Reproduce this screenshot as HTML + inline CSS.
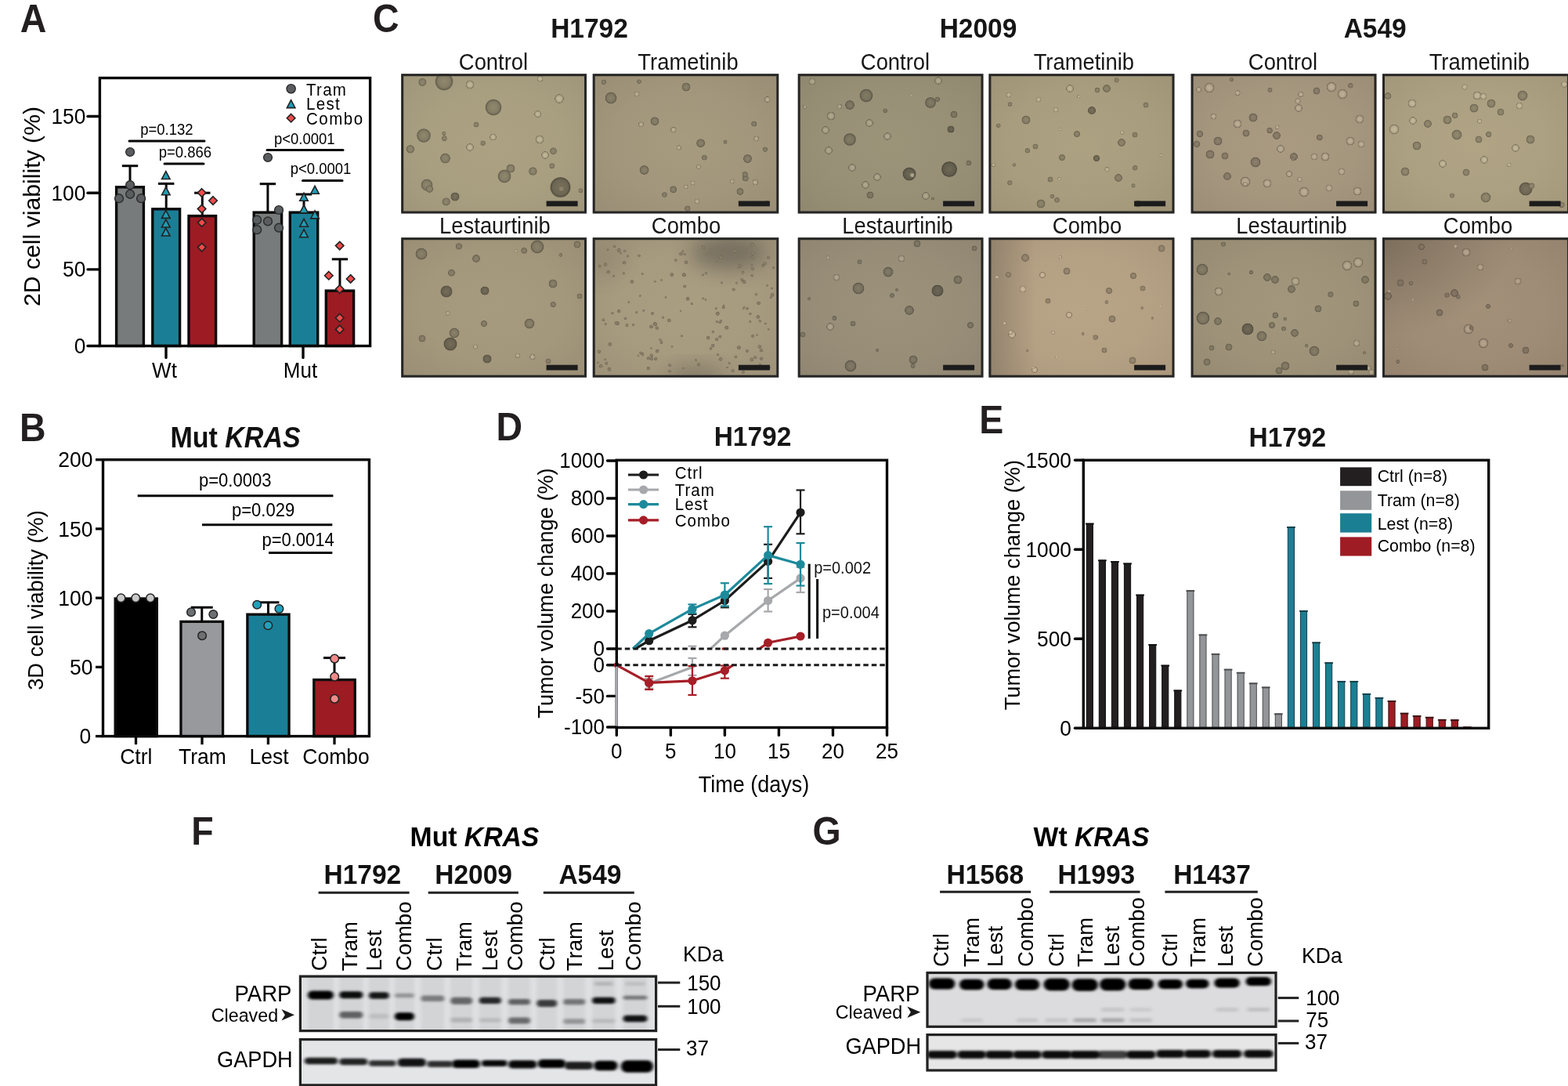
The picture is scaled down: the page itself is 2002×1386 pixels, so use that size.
<!DOCTYPE html>
<html><head><meta charset="utf-8"><title>Figure</title>
<style>
html,body{margin:0;padding:0;background:#fff;}
body{width:2002px;height:1386px;overflow:hidden;}
svg{display:block;}
text{font-family:"Liberation Sans", Arial, Helvetica, sans-serif;}
</style></head><body>
<svg width="2002" height="1386" viewBox="0 0 2002 1386">
<rect x="0" y="0" width="2002" height="1386" fill="#ffffff"/>
<text transform="translate(25.80 41.00) scale(1 1.06)" font-size="46.5" font-weight="bold" fill="#231f20">A</text>
<line x1="112.00" y1="441.50" x2="127.40" y2="441.50" stroke="#070707" stroke-width="3.4" stroke-linecap="round"/>
<text transform="translate(109.30 451.10) scale(1 1.06)" font-size="26.3" text-anchor="end">0</text>
<line x1="112.00" y1="343.85" x2="127.40" y2="343.85" stroke="#070707" stroke-width="3.4" stroke-linecap="round"/>
<text transform="translate(109.30 353.45) scale(1 1.06)" font-size="26.3" text-anchor="end">50</text>
<line x1="112.00" y1="246.20" x2="127.40" y2="246.20" stroke="#070707" stroke-width="3.4" stroke-linecap="round"/>
<text transform="translate(109.30 255.80) scale(1 1.06)" font-size="26.3" text-anchor="end">100</text>
<line x1="112.00" y1="148.55" x2="127.40" y2="148.55" stroke="#070707" stroke-width="3.4" stroke-linecap="round"/>
<text transform="translate(109.30 158.15) scale(1 1.06)" font-size="26.3" text-anchor="end">150</text>
<line x1="212.00" y1="441.50" x2="212.00" y2="456.50" stroke="#070707" stroke-width="3.4" stroke-linecap="round"/>
<line x1="387.00" y1="441.50" x2="387.00" y2="456.50" stroke="#070707" stroke-width="3.4" stroke-linecap="round"/>
<text transform="translate(210.00 481.60) scale(1 1.06)" font-size="26" text-anchor="middle">Wt</text>
<text transform="translate(383.50 481.60) scale(1 1.06)" font-size="26" text-anchor="middle">Mut</text>
<text transform="translate(51.30 263.50) rotate(-90) scale(1.06 1.06)" font-size="28.5" text-anchor="middle">2D cell viability (%)</text>
<line x1="166.00" y1="238.00" x2="166.00" y2="211.70" stroke="#070707" stroke-width="3" stroke-linecap="butt"/>
<line x1="155.80" y1="211.70" x2="176.20" y2="211.70" stroke="#070707" stroke-width="3" stroke-linecap="butt"/>
<line x1="212.20" y1="266.00" x2="212.20" y2="234.40" stroke="#070707" stroke-width="3" stroke-linecap="butt"/>
<line x1="202.00" y1="234.40" x2="222.40" y2="234.40" stroke="#070707" stroke-width="3" stroke-linecap="butt"/>
<line x1="258.30" y1="274.80" x2="258.30" y2="246.20" stroke="#070707" stroke-width="3" stroke-linecap="butt"/>
<line x1="248.10" y1="246.20" x2="268.50" y2="246.20" stroke="#070707" stroke-width="3" stroke-linecap="butt"/>
<line x1="341.90" y1="270.30" x2="341.90" y2="234.70" stroke="#070707" stroke-width="3" stroke-linecap="butt"/>
<line x1="331.70" y1="234.70" x2="352.10" y2="234.70" stroke="#070707" stroke-width="3" stroke-linecap="butt"/>
<line x1="388.00" y1="270.30" x2="388.00" y2="248.00" stroke="#070707" stroke-width="3" stroke-linecap="butt"/>
<line x1="377.80" y1="248.00" x2="398.20" y2="248.00" stroke="#070707" stroke-width="3" stroke-linecap="butt"/>
<line x1="433.95" y1="370.30" x2="433.95" y2="330.80" stroke="#070707" stroke-width="3" stroke-linecap="butt"/>
<line x1="423.75" y1="330.80" x2="444.15" y2="330.80" stroke="#070707" stroke-width="3" stroke-linecap="butt"/>
<rect x="148.60" y="238.80" width="34.80" height="202.70" fill="#777b7b" stroke="#0a0a0a" stroke-width="3.4"/>
<rect x="194.80" y="266.80" width="34.80" height="174.70" fill="#1a7f96" stroke="#0a0a0a" stroke-width="3.4"/>
<rect x="241.00" y="275.60" width="34.60" height="165.90" fill="#9d1b22" stroke="#0a0a0a" stroke-width="3.4"/>
<rect x="324.20" y="271.10" width="35.40" height="170.40" fill="#777b7b" stroke="#0a0a0a" stroke-width="3.4"/>
<rect x="370.30" y="271.10" width="35.40" height="170.40" fill="#1a7f96" stroke="#0a0a0a" stroke-width="3.4"/>
<rect x="416.30" y="371.10" width="35.30" height="70.40" fill="#9d1b22" stroke="#0a0a0a" stroke-width="3.4"/>
<circle cx="166.10" cy="194.00" r="5.40" fill="#5a5d5f" stroke="#2a2a2a" stroke-width="1.4"/>
<circle cx="166.10" cy="236.10" r="5.40" fill="#5a5d5f" stroke="#2a2a2a" stroke-width="1.4"/>
<circle cx="166.10" cy="247.80" r="5.40" fill="#5a5d5f" stroke="#2a2a2a" stroke-width="1.4"/>
<circle cx="152.00" cy="253.20" r="5.40" fill="#5a5d5f" stroke="#2a2a2a" stroke-width="1.4"/>
<circle cx="180.10" cy="253.20" r="5.40" fill="#5a5d5f" stroke="#2a2a2a" stroke-width="1.4"/>
<circle cx="342.00" cy="201.00" r="5.40" fill="#5a5d5f" stroke="#2a2a2a" stroke-width="1.4"/>
<circle cx="356.00" cy="268.00" r="5.40" fill="#5a5d5f" stroke="#2a2a2a" stroke-width="1.4"/>
<circle cx="328.20" cy="280.70" r="5.40" fill="#5a5d5f" stroke="#2a2a2a" stroke-width="1.4"/>
<circle cx="342.00" cy="282.40" r="5.40" fill="#5a5d5f" stroke="#2a2a2a" stroke-width="1.4"/>
<circle cx="328.20" cy="293.20" r="5.40" fill="#5a5d5f" stroke="#2a2a2a" stroke-width="1.4"/>
<circle cx="356.00" cy="290.70" r="5.40" fill="#5a5d5f" stroke="#2a2a2a" stroke-width="1.4"/>
<polygon points="211.80,218.63 206.55,228.55 217.05,228.55" fill="#1f9db6" stroke="#222" stroke-width="1.6" stroke-linejoin="miter"/>
<polygon points="211.80,238.83 206.55,248.75 217.05,248.75" fill="#1f9db6" stroke="#222" stroke-width="1.6" stroke-linejoin="miter"/>
<polygon points="211.80,268.43 206.55,278.35 217.05,278.35" fill="#1f9db6" stroke="#222" stroke-width="1.6" stroke-linejoin="miter"/>
<polygon points="211.80,280.03 206.55,289.95 217.05,289.95" fill="#1f9db6" stroke="#222" stroke-width="1.6" stroke-linejoin="miter"/>
<polygon points="211.80,291.13 206.55,301.05 217.05,301.05" fill="#1f9db6" stroke="#222" stroke-width="1.6" stroke-linejoin="miter"/>
<polygon points="402.00,237.33 396.75,247.25 407.25,247.25" fill="#1f9db6" stroke="#222" stroke-width="1.6" stroke-linejoin="miter"/>
<polygon points="388.00,246.33 382.75,256.25 393.25,256.25" fill="#1f9db6" stroke="#222" stroke-width="1.6" stroke-linejoin="miter"/>
<polygon points="388.00,261.83 382.75,271.75 393.25,271.75" fill="#1f9db6" stroke="#222" stroke-width="1.6" stroke-linejoin="miter"/>
<polygon points="402.00,268.93 396.75,278.85 407.25,278.85" fill="#1f9db6" stroke="#222" stroke-width="1.6" stroke-linejoin="miter"/>
<polygon points="388.00,279.33 382.75,289.25 393.25,289.25" fill="#1f9db6" stroke="#222" stroke-width="1.6" stroke-linejoin="miter"/>
<polygon points="388.00,292.83 382.75,302.75 393.25,302.75" fill="#1f9db6" stroke="#222" stroke-width="1.6" stroke-linejoin="miter"/>
<polygon points="257.60,240.75 262.85,246.00 257.60,251.25 252.35,246.00" fill="#ef4b4b" stroke="#222" stroke-width="1.6"/>
<polygon points="272.00,250.75 277.25,256.00 272.00,261.25 266.75,256.00" fill="#ef4b4b" stroke="#222" stroke-width="1.6"/>
<polygon points="257.60,261.35 262.85,266.60 257.60,271.85 252.35,266.60" fill="#ef4b4b" stroke="#222" stroke-width="1.6"/>
<polygon points="257.70,278.85 262.95,284.10 257.70,289.35 252.45,284.10" fill="#ef4b4b" stroke="#222" stroke-width="1.6"/>
<polygon points="257.70,310.35 262.95,315.60 257.70,320.85 252.45,315.60" fill="#ef4b4b" stroke="#222" stroke-width="1.6"/>
<polygon points="433.70,308.35 438.95,313.60 433.70,318.85 428.45,313.60" fill="#ef4b4b" stroke="#222" stroke-width="1.6"/>
<polygon points="419.80,346.45 425.05,351.70 419.80,356.95 414.55,351.70" fill="#ef4b4b" stroke="#222" stroke-width="1.6"/>
<polygon points="447.60,350.65 452.85,355.90 447.60,361.15 442.35,355.90" fill="#ef4b4b" stroke="#222" stroke-width="1.6"/>
<polygon points="433.70,363.75 438.95,369.00 433.70,374.25 428.45,369.00" fill="#ef4b4b" stroke="#222" stroke-width="1.6"/>
<polygon points="433.70,400.45 438.95,405.70 433.70,410.95 428.45,405.70" fill="#ef4b4b" stroke="#222" stroke-width="1.6"/>
<polygon points="433.70,415.15 438.95,420.40 433.70,425.65 428.45,420.40" fill="#ef4b4b" stroke="#222" stroke-width="1.6"/>
<rect x="127.40" y="99.50" width="345.20" height="342.00" fill="none" stroke="#070707" stroke-width="3.4"/>
<line x1="165.00" y1="180.00" x2="261.00" y2="180.00" stroke="#070707" stroke-width="3" stroke-linecap="round"/>
<text transform="translate(212.80 172.00) scale(1 1.06)" font-size="18.5" text-anchor="middle">p=0.132</text>
<line x1="210.00" y1="209.00" x2="260.00" y2="209.00" stroke="#070707" stroke-width="3" stroke-linecap="round"/>
<text transform="translate(236.30 200.50) scale(1 1.06)" font-size="18.5" text-anchor="middle">p=0.866</text>
<line x1="341.00" y1="191.40" x2="438.00" y2="191.40" stroke="#070707" stroke-width="3" stroke-linecap="round"/>
<text transform="translate(388.80 184.00) scale(1 1.06)" font-size="18.5" text-anchor="middle">p&lt;0.0001</text>
<line x1="386.50" y1="230.40" x2="437.00" y2="230.40" stroke="#070707" stroke-width="3" stroke-linecap="round"/>
<text transform="translate(409.50 222.00) scale(1 1.06)" font-size="18.5" text-anchor="middle">p&lt;0.0001</text>
<circle cx="371.60" cy="113.20" r="5.60" fill="#5a5d5f" stroke="#2a2a2a" stroke-width="1.4"/>
<polygon points="371.60,127.73 366.35,137.65 376.85,137.65" fill="#1f9db6" stroke="#222" stroke-width="1.6" stroke-linejoin="miter"/>
<polygon points="371.60,145.45 376.85,150.70 371.60,155.95 366.35,150.70" fill="#ef4b4b" stroke="#222" stroke-width="1.6"/>
<text transform="translate(391.00 121.80) scale(1 1.06)" font-size="20.5" letter-spacing="1.3">Tram</text>
<text transform="translate(391.00 140.00) scale(1 1.06)" font-size="20.5" letter-spacing="1.3">Lest</text>
<text transform="translate(391.00 158.60) scale(1 1.06)" font-size="20.5" letter-spacing="1.5">Combo</text>
<text transform="translate(24.94 563.00) scale(1 1.06)" font-size="46.5" font-weight="bold" fill="#231f20">B</text>
<text transform="translate(217.50 570.80) scale(1 1.06)" font-size="34" font-weight="bold" fill="#111">Mut <tspan font-style="italic">KRAS</tspan></text>
<line x1="122.00" y1="939.60" x2="131.50" y2="939.60" stroke="#070707" stroke-width="3.3" stroke-linecap="butt"/>
<text transform="translate(116.20 949.20) scale(1 1.06)" font-size="26.5" text-anchor="end">0</text>
<line x1="122.00" y1="851.38" x2="131.50" y2="851.38" stroke="#070707" stroke-width="3.3" stroke-linecap="butt"/>
<text transform="translate(118.50 860.98) scale(1 1.06)" font-size="26.5" text-anchor="end">50</text>
<line x1="122.00" y1="763.15" x2="131.50" y2="763.15" stroke="#070707" stroke-width="3.3" stroke-linecap="butt"/>
<text transform="translate(118.50 772.75) scale(1 1.06)" font-size="26.5" text-anchor="end">100</text>
<line x1="122.00" y1="674.92" x2="131.50" y2="674.92" stroke="#070707" stroke-width="3.3" stroke-linecap="butt"/>
<text transform="translate(118.50 684.52) scale(1 1.06)" font-size="26.5" text-anchor="end">150</text>
<line x1="122.00" y1="586.70" x2="131.50" y2="586.70" stroke="#070707" stroke-width="3.3" stroke-linecap="butt"/>
<text transform="translate(118.50 596.30) scale(1 1.06)" font-size="26.5" text-anchor="end">200</text>
<text transform="translate(55.00 766.00) rotate(-90)" font-size="27.2" text-anchor="middle">3D cell viability (%)</text>
<line x1="257.75" y1="792.20" x2="257.75" y2="775.20" stroke="#070707" stroke-width="3" stroke-linecap="butt"/>
<line x1="243.75" y1="775.20" x2="271.75" y2="775.20" stroke="#070707" stroke-width="3" stroke-linecap="butt"/>
<line x1="342.45" y1="783.00" x2="342.45" y2="768.80" stroke="#070707" stroke-width="3" stroke-linecap="butt"/>
<line x1="328.45" y1="768.80" x2="356.45" y2="768.80" stroke="#070707" stroke-width="3" stroke-linecap="butt"/>
<line x1="427.00" y1="866.40" x2="427.00" y2="839.60" stroke="#070707" stroke-width="3" stroke-linecap="butt"/>
<line x1="413.00" y1="839.60" x2="441.00" y2="839.60" stroke="#070707" stroke-width="3" stroke-linecap="butt"/>
<rect x="147.15" y="763.95" width="53.20" height="175.65" fill="#000000" stroke="#0a0a0a" stroke-width="3.3"/>
<rect x="230.95" y="793.35" width="53.60" height="146.25" fill="#97999c" stroke="#0a0a0a" stroke-width="3.3"/>
<rect x="315.85" y="784.15" width="53.20" height="155.45" fill="#1a7f96" stroke="#0a0a0a" stroke-width="3.3"/>
<rect x="400.75" y="867.55" width="52.50" height="72.05" fill="#9d1b22" stroke="#0a0a0a" stroke-width="3.3"/>
<line x1="173.50" y1="939.60" x2="173.50" y2="950.20" stroke="#070707" stroke-width="3.3" stroke-linecap="butt"/>
<line x1="258.00" y1="939.60" x2="258.00" y2="950.20" stroke="#070707" stroke-width="3.3" stroke-linecap="butt"/>
<line x1="342.40" y1="939.60" x2="342.40" y2="950.20" stroke="#070707" stroke-width="3.3" stroke-linecap="butt"/>
<line x1="427.00" y1="939.60" x2="427.00" y2="950.20" stroke="#070707" stroke-width="3.3" stroke-linecap="butt"/>
<text transform="translate(173.80 975.00) scale(1 1.06)" font-size="26.5" text-anchor="middle">Ctrl</text>
<text transform="translate(258.50 975.00) scale(1 1.06)" font-size="26.5" text-anchor="middle">Tram</text>
<text transform="translate(343.50 975.00) scale(1 1.06)" font-size="26.5" text-anchor="middle">Lest</text>
<text transform="translate(429.00 975.00) scale(1 1.06)" font-size="26.5" text-anchor="middle">Combo</text>
<circle cx="154.50" cy="763.20" r="5.30" fill="#c9c9c9" stroke="#222" stroke-width="1.5"/>
<circle cx="173.30" cy="763.20" r="5.30" fill="#c9c9c9" stroke="#222" stroke-width="1.5"/>
<circle cx="192.00" cy="763.20" r="5.30" fill="#c9c9c9" stroke="#222" stroke-width="1.5"/>
<circle cx="244.00" cy="781.20" r="5.30" fill="#6d7072" stroke="#222" stroke-width="1.5"/>
<circle cx="272.30" cy="784.00" r="5.30" fill="#6d7072" stroke="#222" stroke-width="1.5"/>
<circle cx="258.10" cy="811.30" r="5.30" fill="#6d7072" stroke="#222" stroke-width="1.5"/>
<circle cx="328.20" cy="771.70" r="5.30" fill="#22a0ba" stroke="#222" stroke-width="1.5"/>
<circle cx="356.40" cy="777.00" r="5.30" fill="#22a0ba" stroke="#222" stroke-width="1.5"/>
<circle cx="342.30" cy="798.20" r="5.30" fill="#22a0ba" stroke="#222" stroke-width="1.5"/>
<circle cx="427.20" cy="840.60" r="5.30" fill="#f08a8a" stroke="#222" stroke-width="1.5"/>
<circle cx="427.20" cy="863.60" r="5.30" fill="#f08a8a" stroke="#222" stroke-width="1.5"/>
<circle cx="427.20" cy="891.90" r="5.30" fill="#f08a8a" stroke="#222" stroke-width="1.5"/>
<rect x="131.50" y="586.70" width="339.90" height="352.90" fill="none" stroke="#070707" stroke-width="3.4"/>
<line x1="175.70" y1="632.70" x2="425.40" y2="632.70" stroke="#070707" stroke-width="3" stroke-linecap="butt"/>
<text transform="translate(300.20 621.40) scale(1 1.06)" font-size="22" text-anchor="middle">p=0.0003</text>
<line x1="258.00" y1="669.80" x2="424.30" y2="669.80" stroke="#070707" stroke-width="3" stroke-linecap="butt"/>
<text transform="translate(336.10 658.50) scale(1 1.06)" font-size="22" text-anchor="middle">p=0.029</text>
<line x1="343.00" y1="705.50" x2="424.30" y2="705.50" stroke="#070707" stroke-width="3" stroke-linecap="butt"/>
<text transform="translate(380.60 697.40) scale(1 1.06)" font-size="22" text-anchor="middle">p=0.0014</text>
<text transform="translate(475.92 41.20) scale(1 1.06)" font-size="46.5" font-weight="bold" fill="#231f20">C</text>
<text transform="translate(752.50 48.00) scale(1 1.06)" font-size="33.5" text-anchor="middle" font-weight="bold" fill="#161616">H1792</text>
<text transform="translate(1249.00 48.00) scale(1 1.06)" font-size="33.5" text-anchor="middle" font-weight="bold" fill="#161616">H2009</text>
<text transform="translate(1755.70 48.00) scale(1 1.06)" font-size="33.5" text-anchor="middle" font-weight="bold" fill="#161616">A549</text>
<defs>
<filter id="soft" x="-20%" y="-20%" width="140%" height="140%"><feGaussianBlur stdDeviation="0.7"/></filter>
<filter id="blob" x="-50%" y="-50%" width="200%" height="200%"><feGaussianBlur stdDeviation="12"/></filter>
<radialGradient id="g00" cx="50%" cy="50%" r="70%"><stop offset="0" stop-color="#aca283"/><stop offset="0.55" stop-color="#a89e80"/><stop offset="1" stop-color="#9f9579"/></radialGradient>
<radialGradient id="dg00"><stop offset="0" stop-color="#90886e"/><stop offset="0.7" stop-color="#837b64"/><stop offset="0.92" stop-color="#655f4d"/><stop offset="1" stop-color="#766f5a" stop-opacity="0.6"/></radialGradient>
<radialGradient id="Dg00"><stop offset="0" stop-color="#79725c"/><stop offset="0.75" stop-color="#6c6552"/><stop offset="0.93" stop-color="#544f40"/><stop offset="1" stop-color="#655f4d" stop-opacity="0.6"/></radialGradient>
<radialGradient id="lg00"><stop offset="0" stop-color="#c2b89a"/><stop offset="0.55" stop-color="#b6ac8e"/><stop offset="0.8" stop-color="#9b9176"/><stop offset="0.92" stop-color="#6f6854"/><stop offset="1" stop-color="#8f866d" stop-opacity="0.5"/></radialGradient>
<clipPath id="cg00"><rect x="512.2" y="94.2" width="236.8" height="178.3"/></clipPath>
<radialGradient id="g01" cx="50%" cy="50%" r="70%"><stop offset="0" stop-color="#a69b7f"/><stop offset="0.55" stop-color="#a2977c"/><stop offset="1" stop-color="#998e75"/></radialGradient>
<radialGradient id="dg01"><stop offset="0" stop-color="#8b826b"/><stop offset="0.7" stop-color="#7e7661"/><stop offset="0.92" stop-color="#615b4a"/><stop offset="1" stop-color="#716a57" stop-opacity="0.6"/></radialGradient>
<radialGradient id="Dg01"><stop offset="0" stop-color="#756d59"/><stop offset="0.75" stop-color="#68614f"/><stop offset="0.93" stop-color="#514c3e"/><stop offset="1" stop-color="#615b4a" stop-opacity="0.6"/></radialGradient>
<radialGradient id="lg01"><stop offset="0" stop-color="#bcb196"/><stop offset="0.55" stop-color="#b0a58a"/><stop offset="0.8" stop-color="#958b72"/><stop offset="0.92" stop-color="#6b6452"/><stop offset="1" stop-color="#8a8069" stop-opacity="0.5"/></radialGradient>
<clipPath id="cg01"><rect x="756.7" y="94.2" width="237.6" height="178.3"/></clipPath>
<radialGradient id="g10" cx="50%" cy="50%" r="70%"><stop offset="0" stop-color="#a79b7f"/><stop offset="0.55" stop-color="#a3977c"/><stop offset="1" stop-color="#9a8e75"/></radialGradient>
<radialGradient id="dg10"><stop offset="0" stop-color="#8c826b"/><stop offset="0.7" stop-color="#7f7661"/><stop offset="0.92" stop-color="#625b4a"/><stop offset="1" stop-color="#726a57" stop-opacity="0.6"/></radialGradient>
<radialGradient id="Dg10"><stop offset="0" stop-color="#756d59"/><stop offset="0.75" stop-color="#68614f"/><stop offset="0.93" stop-color="#524c3e"/><stop offset="1" stop-color="#625b4a" stop-opacity="0.6"/></radialGradient>
<radialGradient id="lg10"><stop offset="0" stop-color="#bdb196"/><stop offset="0.55" stop-color="#b1a58a"/><stop offset="0.8" stop-color="#968b72"/><stop offset="0.92" stop-color="#6c6452"/><stop offset="1" stop-color="#8b8069" stop-opacity="0.5"/></radialGradient>
<clipPath id="cg10"><rect x="512.2" y="303.2" width="236.8" height="178.5"/></clipPath>
<radialGradient id="g11" cx="50%" cy="50%" r="70%"><stop offset="0" stop-color="#aa9e82"/><stop offset="0.55" stop-color="#a69a7f"/><stop offset="1" stop-color="#9d9178"/></radialGradient>
<radialGradient id="dg11"><stop offset="0" stop-color="#8f846d"/><stop offset="0.7" stop-color="#817863"/><stop offset="0.92" stop-color="#645c4c"/><stop offset="1" stop-color="#746c59" stop-opacity="0.6"/></radialGradient>
<radialGradient id="Dg11"><stop offset="0" stop-color="#786f5b"/><stop offset="0.75" stop-color="#6a6351"/><stop offset="0.93" stop-color="#534d40"/><stop offset="1" stop-color="#645c4c" stop-opacity="0.6"/></radialGradient>
<radialGradient id="lg11"><stop offset="0" stop-color="#c0b499"/><stop offset="0.55" stop-color="#b4a88d"/><stop offset="0.8" stop-color="#998e75"/><stop offset="0.92" stop-color="#6e6654"/><stop offset="1" stop-color="#8d836c" stop-opacity="0.5"/></radialGradient>
<clipPath id="cg11"><rect x="756.7" y="303.2" width="237.6" height="178.5"/></clipPath>
<radialGradient id="g02" cx="50%" cy="50%" r="70%"><stop offset="0" stop-color="#9c9479"/><stop offset="0.55" stop-color="#989076"/><stop offset="1" stop-color="#8f876f"/></radialGradient>
<radialGradient id="dg02"><stop offset="0" stop-color="#837c65"/><stop offset="0.7" stop-color="#77705c"/><stop offset="0.92" stop-color="#5b5647"/><stop offset="1" stop-color="#6a6553" stop-opacity="0.6"/></radialGradient>
<radialGradient id="Dg02"><stop offset="0" stop-color="#6d6855"/><stop offset="0.75" stop-color="#615c4c"/><stop offset="0.93" stop-color="#4c483b"/><stop offset="1" stop-color="#5b5647" stop-opacity="0.6"/></radialGradient>
<radialGradient id="lg02"><stop offset="0" stop-color="#b2aa90"/><stop offset="0.55" stop-color="#a69e84"/><stop offset="0.8" stop-color="#8c846d"/><stop offset="0.92" stop-color="#645f4e"/><stop offset="1" stop-color="#817a64" stop-opacity="0.5"/></radialGradient>
<clipPath id="cg02"><rect x="1018.7" y="94.2" width="236.8" height="178.3"/></clipPath>
<radialGradient id="g03" cx="50%" cy="50%" r="70%"><stop offset="0" stop-color="#aca181"/><stop offset="0.55" stop-color="#a89d7e"/><stop offset="1" stop-color="#9f9477"/></radialGradient>
<radialGradient id="dg03"><stop offset="0" stop-color="#90876c"/><stop offset="0.7" stop-color="#837a62"/><stop offset="0.92" stop-color="#655e4c"/><stop offset="1" stop-color="#766e58" stop-opacity="0.6"/></radialGradient>
<radialGradient id="Dg03"><stop offset="0" stop-color="#79715b"/><stop offset="0.75" stop-color="#6c6451"/><stop offset="0.93" stop-color="#544e3f"/><stop offset="1" stop-color="#655e4c" stop-opacity="0.6"/></radialGradient>
<radialGradient id="lg03"><stop offset="0" stop-color="#c2b798"/><stop offset="0.55" stop-color="#b6ab8c"/><stop offset="0.8" stop-color="#9b9074"/><stop offset="0.92" stop-color="#6f6853"/><stop offset="1" stop-color="#8f856b" stop-opacity="0.5"/></radialGradient>
<clipPath id="cg03"><rect x="1262.4" y="94.2" width="237.1" height="178.3"/></clipPath>
<radialGradient id="g12" cx="50%" cy="50%" r="70%"><stop offset="0" stop-color="#9c927b"/><stop offset="0.55" stop-color="#988e78"/><stop offset="1" stop-color="#8f8571"/></radialGradient>
<radialGradient id="dg12"><stop offset="0" stop-color="#837a67"/><stop offset="0.7" stop-color="#776f5e"/><stop offset="0.92" stop-color="#5b5548"/><stop offset="1" stop-color="#6a6354" stop-opacity="0.6"/></radialGradient>
<radialGradient id="Dg12"><stop offset="0" stop-color="#6d6656"/><stop offset="0.75" stop-color="#615b4d"/><stop offset="0.93" stop-color="#4c473c"/><stop offset="1" stop-color="#5b5548" stop-opacity="0.6"/></radialGradient>
<radialGradient id="lg12"><stop offset="0" stop-color="#b2a892"/><stop offset="0.55" stop-color="#a69c86"/><stop offset="0.8" stop-color="#8c836e"/><stop offset="0.92" stop-color="#645e4f"/><stop offset="1" stop-color="#817966" stop-opacity="0.5"/></radialGradient>
<clipPath id="cg12"><rect x="1018.7" y="303.2" width="236.8" height="178.5"/></clipPath>
<radialGradient id="g13" cx="50%" cy="50%" r="70%"><stop offset="0" stop-color="#b8a486"/><stop offset="0.55" stop-color="#b4a083"/><stop offset="1" stop-color="#ab977c"/></radialGradient>
<linearGradient id="eg13" x1="0" y1="0" x2="1" y2="0"><stop offset="0" stop-color="#7c6f60" stop-opacity="0.55"/><stop offset="0.25" stop-color="#7c6f60" stop-opacity="0"/></linearGradient>
<radialGradient id="dg13"><stop offset="0" stop-color="#9b8a71"/><stop offset="0.7" stop-color="#8c7d66"/><stop offset="0.92" stop-color="#6c604f"/><stop offset="1" stop-color="#7e705c" stop-opacity="0.6"/></radialGradient>
<radialGradient id="Dg13"><stop offset="0" stop-color="#82735e"/><stop offset="0.75" stop-color="#736654"/><stop offset="0.93" stop-color="#5a5042"/><stop offset="1" stop-color="#6c604f" stop-opacity="0.6"/></radialGradient>
<radialGradient id="lg13"><stop offset="0" stop-color="#ceba9d"/><stop offset="0.55" stop-color="#c2ae91"/><stop offset="0.8" stop-color="#a69379"/><stop offset="0.92" stop-color="#776a56"/><stop offset="1" stop-color="#99886f" stop-opacity="0.5"/></radialGradient>
<clipPath id="cg13"><rect x="1262.4" y="303.2" width="237.1" height="178.5"/></clipPath>
<radialGradient id="g04" cx="50%" cy="50%" r="70%"><stop offset="0" stop-color="#a99a81"/><stop offset="0.55" stop-color="#a5967e"/><stop offset="1" stop-color="#9c8d77"/></radialGradient>
<radialGradient id="dg04"><stop offset="0" stop-color="#8e816c"/><stop offset="0.7" stop-color="#817562"/><stop offset="0.92" stop-color="#635a4c"/><stop offset="1" stop-color="#736958" stop-opacity="0.6"/></radialGradient>
<radialGradient id="Dg04"><stop offset="0" stop-color="#776c5b"/><stop offset="0.75" stop-color="#6a6051"/><stop offset="0.93" stop-color="#524b3f"/><stop offset="1" stop-color="#635a4c" stop-opacity="0.6"/></radialGradient>
<radialGradient id="lg04"><stop offset="0" stop-color="#bfb098"/><stop offset="0.55" stop-color="#b3a48c"/><stop offset="0.8" stop-color="#988a74"/><stop offset="0.92" stop-color="#6d6353"/><stop offset="1" stop-color="#8c806b" stop-opacity="0.5"/></radialGradient>
<clipPath id="cg04"><rect x="1520.6" y="94.2" width="236.9" height="178.3"/></clipPath>
<radialGradient id="g05" cx="50%" cy="50%" r="70%"><stop offset="0" stop-color="#b0a485"/><stop offset="0.55" stop-color="#aca082"/><stop offset="1" stop-color="#a3977b"/></radialGradient>
<radialGradient id="dg05"><stop offset="0" stop-color="#948a70"/><stop offset="0.7" stop-color="#867d65"/><stop offset="0.92" stop-color="#67604e"/><stop offset="1" stop-color="#78705b" stop-opacity="0.6"/></radialGradient>
<radialGradient id="Dg05"><stop offset="0" stop-color="#7c735e"/><stop offset="0.75" stop-color="#6e6653"/><stop offset="0.93" stop-color="#565041"/><stop offset="1" stop-color="#67604e" stop-opacity="0.6"/></radialGradient>
<radialGradient id="lg05"><stop offset="0" stop-color="#c6ba9c"/><stop offset="0.55" stop-color="#baae90"/><stop offset="0.8" stop-color="#9e9378"/><stop offset="0.92" stop-color="#726a56"/><stop offset="1" stop-color="#92886e" stop-opacity="0.5"/></radialGradient>
<clipPath id="cg05"><rect x="1765.0" y="94.2" width="239.0" height="178.3"/></clipPath>
<radialGradient id="g14" cx="50%" cy="50%" r="70%"><stop offset="0" stop-color="#a2977c"/><stop offset="0.55" stop-color="#9e9379"/><stop offset="1" stop-color="#958a72"/></radialGradient>
<radialGradient id="dg14"><stop offset="0" stop-color="#887e68"/><stop offset="0.7" stop-color="#7b735e"/><stop offset="0.92" stop-color="#5f5849"/><stop offset="1" stop-color="#6f6755" stop-opacity="0.6"/></radialGradient>
<radialGradient id="Dg14"><stop offset="0" stop-color="#726a57"/><stop offset="0.75" stop-color="#655e4d"/><stop offset="0.93" stop-color="#4f4a3c"/><stop offset="1" stop-color="#5f5849" stop-opacity="0.6"/></radialGradient>
<radialGradient id="lg14"><stop offset="0" stop-color="#b8ad93"/><stop offset="0.55" stop-color="#aca187"/><stop offset="0.8" stop-color="#91876f"/><stop offset="0.92" stop-color="#686150"/><stop offset="1" stop-color="#867d67" stop-opacity="0.5"/></radialGradient>
<clipPath id="cg14"><rect x="1520.6" y="303.2" width="236.9" height="178.5"/></clipPath>
<radialGradient id="g15" cx="50%" cy="50%" r="70%"><stop offset="0" stop-color="#a29079"/><stop offset="0.55" stop-color="#9e8c76"/><stop offset="1" stop-color="#95836f"/></radialGradient>
<radialGradient id="eg15" cx="0" cy="0" r="0.7"><stop offset="0" stop-color="#6d6050" stop-opacity="0.6"/><stop offset="1" stop-color="#6d6050" stop-opacity="0"/></radialGradient>
<radialGradient id="dg15"><stop offset="0" stop-color="#887865"/><stop offset="0.7" stop-color="#7b6d5c"/><stop offset="0.92" stop-color="#5f5447"/><stop offset="1" stop-color="#6f6253" stop-opacity="0.6"/></radialGradient>
<radialGradient id="Dg15"><stop offset="0" stop-color="#726555"/><stop offset="0.75" stop-color="#655a4c"/><stop offset="0.93" stop-color="#4f463b"/><stop offset="1" stop-color="#5f5447" stop-opacity="0.6"/></radialGradient>
<radialGradient id="lg15"><stop offset="0" stop-color="#b8a690"/><stop offset="0.55" stop-color="#ac9a84"/><stop offset="0.8" stop-color="#91816d"/><stop offset="0.92" stop-color="#685c4e"/><stop offset="1" stop-color="#867764" stop-opacity="0.5"/></radialGradient>
<clipPath id="cg15"><rect x="1765.0" y="303.2" width="239.0" height="178.5"/></clipPath>
</defs>
<g clip-path="url(#cg00)">
<rect x="512.20" y="94.20" width="236.80" height="178.30" fill="url(#g00)" stroke="none" stroke-width="0"/>
<g filter="url(#soft)">
<circle cx="567.00" cy="104.00" r="11.50" fill="url(#dg00)" stroke="none" stroke-width="0"/>
<circle cx="600.00" cy="108.00" r="5.50" fill="url(#lg00)" stroke="none" stroke-width="0"/>
<circle cx="630.00" cy="137.00" r="10.50" fill="url(#dg00)" stroke="none" stroke-width="0"/>
<circle cx="714.00" cy="126.00" r="6.00" fill="url(#lg00)" stroke="none" stroke-width="0"/>
<circle cx="686.60" cy="145.60" r="4.50" fill="url(#lg00)" stroke="none" stroke-width="0"/>
<circle cx="541.00" cy="173.00" r="9.00" fill="url(#dg00)" stroke="none" stroke-width="0"/>
<circle cx="600.00" cy="188.00" r="5.00" fill="url(#lg00)" stroke="none" stroke-width="0"/>
<circle cx="689.00" cy="178.00" r="5.50" fill="url(#lg00)" stroke="none" stroke-width="0"/>
<circle cx="568.50" cy="202.00" r="6.50" fill="url(#dg00)" stroke="none" stroke-width="0"/>
<circle cx="696.00" cy="198.00" r="5.00" fill="url(#lg00)" stroke="none" stroke-width="0"/>
<circle cx="644.00" cy="225.00" r="8.50" fill="url(#dg00)" stroke="none" stroke-width="0"/>
<circle cx="652.00" cy="215.00" r="5.50" fill="url(#dg00)" stroke="none" stroke-width="0"/>
<circle cx="545.00" cy="236.00" r="7.50" fill="url(#dg00)" stroke="none" stroke-width="0"/>
<circle cx="715.50" cy="239.00" r="13.10" fill="url(#Dg00)" stroke="none" stroke-width="0"/>
<circle cx="581.00" cy="251.00" r="5.60" fill="url(#Dg00)" stroke="none" stroke-width="0"/>
<circle cx="608.00" cy="159.00" r="3.50" fill="url(#dg00)" stroke="none" stroke-width="0"/>
<circle cx="548.41" cy="241.13" r="4.79" fill="url(#dg00)" stroke="none" stroke-width="0"/>
<circle cx="629.57" cy="174.95" r="4.45" fill="url(#lg00)" stroke="none" stroke-width="0"/>
<circle cx="539.30" cy="104.91" r="5.01" fill="url(#dg00)" stroke="none" stroke-width="0"/>
<circle cx="689.56" cy="100.55" r="3.84" fill="url(#lg00)" stroke="none" stroke-width="0"/>
<circle cx="569.63" cy="257.40" r="5.20" fill="url(#dg00)" stroke="none" stroke-width="0"/>
<circle cx="523.92" cy="190.24" r="5.32" fill="url(#dg00)" stroke="none" stroke-width="0"/>
<circle cx="566.89" cy="170.40" r="2.59" fill="url(#dg00)" stroke="none" stroke-width="0"/>
<circle cx="616.64" cy="182.65" r="3.20" fill="url(#dg00)" stroke="none" stroke-width="0"/>
<circle cx="567.38" cy="176.63" r="3.37" fill="url(#dg00)" stroke="none" stroke-width="0"/>
<circle cx="706.49" cy="192.74" r="4.43" fill="url(#dg00)" stroke="none" stroke-width="0"/>
<circle cx="741.32" cy="243.21" r="2.86" fill="url(#dg00)" stroke="none" stroke-width="0"/>
<circle cx="680.39" cy="218.47" r="5.31" fill="url(#dg00)" stroke="none" stroke-width="0"/>
<circle cx="704.79" cy="211.67" r="3.41" fill="url(#dg00)" stroke="none" stroke-width="0"/>
<circle cx="716.58" cy="240.92" r="4.02" fill="url(#dg00)" stroke="none" stroke-width="0"/>
</g>
</g>
<rect x="513.70" y="95.70" width="233.80" height="175.30" fill="none" stroke="#262626" stroke-width="3"/>
<rect x="697.60" y="256.50" width="40.00" height="6.80" fill="#1c1c1c" stroke="none" stroke-width="0"/>
<text transform="translate(630.00 88.50) scale(1 1.06)" font-size="27.4" text-anchor="middle" fill="#161616">Control</text>
<g clip-path="url(#cg01)">
<rect x="756.70" y="94.20" width="237.60" height="178.30" fill="url(#g01)" stroke="none" stroke-width="0"/>
<g filter="url(#soft)">
<circle cx="780.00" cy="125.00" r="7.50" fill="url(#dg01)" stroke="none" stroke-width="0"/>
<circle cx="813.00" cy="120.00" r="3.50" fill="url(#lg01)" stroke="none" stroke-width="0"/>
<circle cx="876.00" cy="111.00" r="5.50" fill="url(#dg01)" stroke="none" stroke-width="0"/>
<circle cx="836.00" cy="154.70" r="5.50" fill="url(#dg01)" stroke="none" stroke-width="0"/>
<circle cx="818.50" cy="158.80" r="3.50" fill="url(#lg01)" stroke="none" stroke-width="0"/>
<circle cx="894.60" cy="182.70" r="5.50" fill="url(#dg01)" stroke="none" stroke-width="0"/>
<circle cx="954.50" cy="202.50" r="5.50" fill="url(#dg01)" stroke="none" stroke-width="0"/>
<circle cx="822.60" cy="217.00" r="6.00" fill="url(#dg01)" stroke="none" stroke-width="0"/>
<circle cx="951.80" cy="227.50" r="4.00" fill="url(#dg01)" stroke="none" stroke-width="0"/>
<circle cx="859.70" cy="241.80" r="4.50" fill="url(#dg01)" stroke="none" stroke-width="0"/>
<circle cx="892.00" cy="213.00" r="3.00" fill="url(#lg01)" stroke="none" stroke-width="0"/>
<circle cx="884.50" cy="233.50" r="3.00" fill="url(#lg01)" stroke="none" stroke-width="0"/>
<circle cx="962.70" cy="158.00" r="3.50" fill="url(#dg01)" stroke="none" stroke-width="0"/>
<circle cx="945.00" cy="244.50" r="4.50" fill="url(#dg01)" stroke="none" stroke-width="0"/>
<circle cx="890.00" cy="257.00" r="3.50" fill="url(#lg01)" stroke="none" stroke-width="0"/>
<circle cx="978.38" cy="257.82" r="2.14" fill="url(#dg01)" stroke="none" stroke-width="0"/>
<circle cx="951.19" cy="222.59" r="3.67" fill="url(#dg01)" stroke="none" stroke-width="0"/>
<circle cx="899.40" cy="201.11" r="3.45" fill="url(#dg01)" stroke="none" stroke-width="0"/>
<circle cx="859.86" cy="165.64" r="3.81" fill="url(#lg01)" stroke="none" stroke-width="0"/>
<circle cx="976.88" cy="190.70" r="3.11" fill="url(#dg01)" stroke="none" stroke-width="0"/>
<circle cx="770.80" cy="104.76" r="3.16" fill="url(#dg01)" stroke="none" stroke-width="0"/>
<circle cx="848.43" cy="248.50" r="3.31" fill="url(#dg01)" stroke="none" stroke-width="0"/>
<circle cx="815.97" cy="104.17" r="2.81" fill="url(#dg01)" stroke="none" stroke-width="0"/>
<circle cx="877.81" cy="266.28" r="3.69" fill="url(#dg01)" stroke="none" stroke-width="0"/>
<circle cx="964.29" cy="232.70" r="3.84" fill="url(#lg01)" stroke="none" stroke-width="0"/>
<circle cx="934.81" cy="231.54" r="2.88" fill="url(#lg01)" stroke="none" stroke-width="0"/>
<circle cx="979.70" cy="127.01" r="3.89" fill="url(#lg01)" stroke="none" stroke-width="0"/>
<circle cx="866.79" cy="188.40" r="3.23" fill="url(#lg01)" stroke="none" stroke-width="0"/>
<circle cx="875.69" cy="238.48" r="2.88" fill="url(#lg01)" stroke="none" stroke-width="0"/>
<circle cx="965.67" cy="176.87" r="3.42" fill="url(#lg01)" stroke="none" stroke-width="0"/>
<circle cx="925.98" cy="181.12" r="2.55" fill="url(#dg01)" stroke="none" stroke-width="0"/>
</g>
</g>
<rect x="758.20" y="95.70" width="234.60" height="175.30" fill="none" stroke="#262626" stroke-width="3"/>
<rect x="942.90" y="256.50" width="40.00" height="6.80" fill="#1c1c1c" stroke="none" stroke-width="0"/>
<text transform="translate(878.50 88.50) scale(1 1.06)" font-size="27.4" text-anchor="middle" fill="#161616">Trametinib</text>
<g clip-path="url(#cg10)">
<rect x="512.20" y="303.20" width="236.80" height="178.50" fill="url(#g10)" stroke="none" stroke-width="0"/>
<g filter="url(#soft)">
<circle cx="538.00" cy="324.00" r="7.50" fill="url(#dg10)" stroke="none" stroke-width="0"/>
<circle cx="608.00" cy="330.00" r="5.00" fill="url(#dg10)" stroke="none" stroke-width="0"/>
<circle cx="570.00" cy="372.00" r="7.60" fill="url(#Dg10)" stroke="none" stroke-width="0"/>
<circle cx="619.00" cy="371.00" r="5.60" fill="url(#Dg10)" stroke="none" stroke-width="0"/>
<circle cx="706.00" cy="362.00" r="5.50" fill="url(#dg10)" stroke="none" stroke-width="0"/>
<circle cx="618.00" cy="413.00" r="4.00" fill="url(#dg10)" stroke="none" stroke-width="0"/>
<circle cx="676.00" cy="413.00" r="6.50" fill="url(#dg10)" stroke="none" stroke-width="0"/>
<circle cx="580.00" cy="425.00" r="6.50" fill="url(#dg10)" stroke="none" stroke-width="0"/>
<circle cx="575.00" cy="439.00" r="8.60" fill="url(#Dg10)" stroke="none" stroke-width="0"/>
<circle cx="539.00" cy="432.00" r="4.50" fill="url(#dg10)" stroke="none" stroke-width="0"/>
<circle cx="622.00" cy="458.00" r="5.60" fill="url(#Dg10)" stroke="none" stroke-width="0"/>
<circle cx="737.00" cy="312.00" r="4.50" fill="url(#dg10)" stroke="none" stroke-width="0"/>
<circle cx="740.00" cy="378.00" r="3.50" fill="url(#dg10)" stroke="none" stroke-width="0"/>
<circle cx="686.00" cy="315.00" r="8.50" fill="url(#dg10)" stroke="none" stroke-width="0"/>
<circle cx="700.00" cy="461.00" r="3.50" fill="url(#dg10)" stroke="none" stroke-width="0"/>
<circle cx="571.69" cy="399.81" r="2.92" fill="url(#lg10)" stroke="none" stroke-width="0"/>
<circle cx="658.86" cy="320.11" r="2.03" fill="url(#lg10)" stroke="none" stroke-width="0"/>
<circle cx="576.50" cy="348.22" r="4.49" fill="url(#dg10)" stroke="none" stroke-width="0"/>
<circle cx="706.24" cy="388.51" r="3.60" fill="url(#dg10)" stroke="none" stroke-width="0"/>
<circle cx="660.92" cy="453.73" r="3.31" fill="url(#lg10)" stroke="none" stroke-width="0"/>
<circle cx="669.13" cy="319.86" r="3.90" fill="url(#dg10)" stroke="none" stroke-width="0"/>
<circle cx="585.92" cy="314.36" r="4.16" fill="url(#dg10)" stroke="none" stroke-width="0"/>
<circle cx="679.79" cy="455.52" r="3.79" fill="url(#lg10)" stroke="none" stroke-width="0"/>
<circle cx="606.99" cy="442.55" r="3.11" fill="url(#lg10)" stroke="none" stroke-width="0"/>
<circle cx="715.77" cy="325.43" r="2.34" fill="url(#dg10)" stroke="none" stroke-width="0"/>
</g>
</g>
<rect x="513.70" y="304.70" width="233.80" height="175.50" fill="none" stroke="#262626" stroke-width="3"/>
<rect x="697.60" y="465.70" width="40.00" height="6.80" fill="#1c1c1c" stroke="none" stroke-width="0"/>
<text transform="translate(631.90 298.00) scale(1 1.06)" font-size="27.4" text-anchor="middle" fill="#161616">Lestaurtinib</text>
<g clip-path="url(#cg11)">
<rect x="756.70" y="303.20" width="237.60" height="178.50" fill="url(#g11)" stroke="none" stroke-width="0"/>
<ellipse cx="930.0" cy="322.0" rx="48.0" ry="22.0" fill="#5d5850" opacity="0.62" filter="url(#blob)"/>
<ellipse cx="888.0" cy="480.0" rx="36.0" ry="14.0" fill="#5d5850" opacity="0.42" filter="url(#blob)"/>
<ellipse cx="770.0" cy="330.0" rx="26.0" ry="26.0" fill="#5d5850" opacity="0.14" filter="url(#blob)"/>
<g filter="url(#soft)">
<circle cx="815.95" cy="326.38" r="1.78" fill="url(#dg11)" stroke="none" stroke-width="0"/>
<circle cx="797.66" cy="320.27" r="1.78" fill="url(#dg11)" stroke="none" stroke-width="0"/>
<circle cx="969.79" cy="442.48" r="2.22" fill="url(#dg11)" stroke="none" stroke-width="0"/>
<circle cx="812.77" cy="398.56" r="1.63" fill="url(#dg11)" stroke="none" stroke-width="0"/>
<circle cx="801.65" cy="326.88" r="1.56" fill="url(#dg11)" stroke="none" stroke-width="0"/>
<circle cx="971.94" cy="447.22" r="2.27" fill="url(#dg11)" stroke="none" stroke-width="0"/>
<circle cx="943.28" cy="341.41" r="1.67" fill="url(#dg11)" stroke="none" stroke-width="0"/>
<circle cx="904.15" cy="431.06" r="2.33" fill="url(#dg11)" stroke="none" stroke-width="0"/>
<circle cx="961.24" cy="323.64" r="2.03" fill="url(#dg11)" stroke="none" stroke-width="0"/>
<circle cx="914.24" cy="393.44" r="1.51" fill="url(#dg11)" stroke="none" stroke-width="0"/>
<circle cx="869.54" cy="324.08" r="2.42" fill="url(#dg11)" stroke="none" stroke-width="0"/>
<circle cx="957.95" cy="400.38" r="1.66" fill="url(#dg11)" stroke="none" stroke-width="0"/>
<circle cx="967.74" cy="404.50" r="2.36" fill="url(#dg11)" stroke="none" stroke-width="0"/>
<circle cx="954.02" cy="393.84" r="1.80" fill="url(#dg11)" stroke="none" stroke-width="0"/>
<circle cx="897.81" cy="380.97" r="1.49" fill="url(#dg11)" stroke="none" stroke-width="0"/>
<circle cx="831.53" cy="444.50" r="1.35" fill="url(#dg11)" stroke="none" stroke-width="0"/>
<circle cx="773.15" cy="413.49" r="1.64" fill="url(#dg11)" stroke="none" stroke-width="0"/>
<circle cx="883.31" cy="387.66" r="1.71" fill="url(#dg11)" stroke="none" stroke-width="0"/>
<circle cx="987.69" cy="341.76" r="1.80" fill="url(#dg11)" stroke="none" stroke-width="0"/>
<circle cx="808.42" cy="414.54" r="1.63" fill="url(#dg11)" stroke="none" stroke-width="0"/>
<circle cx="842.98" cy="433.57" r="1.68" fill="url(#dg11)" stroke="none" stroke-width="0"/>
<circle cx="888.70" cy="459.77" r="1.42" fill="url(#dg11)" stroke="none" stroke-width="0"/>
<circle cx="776.60" cy="347.31" r="2.22" fill="url(#dg11)" stroke="none" stroke-width="0"/>
<circle cx="901.54" cy="348.73" r="1.70" fill="url(#dg11)" stroke="none" stroke-width="0"/>
<circle cx="802.75" cy="385.63" r="1.35" fill="url(#dg11)" stroke="none" stroke-width="0"/>
<circle cx="920.01" cy="458.37" r="2.45" fill="url(#dg11)" stroke="none" stroke-width="0"/>
<circle cx="928.49" cy="469.02" r="1.32" fill="url(#dg11)" stroke="none" stroke-width="0"/>
<circle cx="827.90" cy="470.04" r="2.23" fill="url(#dg11)" stroke="none" stroke-width="0"/>
<circle cx="855.29" cy="466.26" r="2.04" fill="url(#dg11)" stroke="none" stroke-width="0"/>
<circle cx="947.22" cy="358.05" r="1.53" fill="url(#dg11)" stroke="none" stroke-width="0"/>
<circle cx="862.90" cy="331.92" r="1.76" fill="url(#dg11)" stroke="none" stroke-width="0"/>
<circle cx="979.69" cy="364.36" r="1.31" fill="url(#dg11)" stroke="none" stroke-width="0"/>
<circle cx="772.81" cy="337.43" r="2.24" fill="url(#dg11)" stroke="none" stroke-width="0"/>
<circle cx="844.53" cy="357.54" r="1.42" fill="url(#dg11)" stroke="none" stroke-width="0"/>
<circle cx="984.18" cy="379.79" r="1.55" fill="url(#dg11)" stroke="none" stroke-width="0"/>
<circle cx="776.09" cy="318.40" r="1.50" fill="url(#dg11)" stroke="none" stroke-width="0"/>
<circle cx="915.39" cy="334.12" r="1.35" fill="url(#dg11)" stroke="none" stroke-width="0"/>
<circle cx="873.39" cy="350.67" r="2.50" fill="url(#dg11)" stroke="none" stroke-width="0"/>
<circle cx="790.28" cy="397.32" r="2.23" fill="url(#dg11)" stroke="none" stroke-width="0"/>
<circle cx="855.04" cy="473.64" r="1.87" fill="url(#dg11)" stroke="none" stroke-width="0"/>
<circle cx="817.26" cy="377.57" r="1.34" fill="url(#dg11)" stroke="none" stroke-width="0"/>
<circle cx="857.73" cy="350.59" r="2.37" fill="url(#dg11)" stroke="none" stroke-width="0"/>
<circle cx="950.18" cy="392.21" r="1.34" fill="url(#dg11)" stroke="none" stroke-width="0"/>
<circle cx="820.09" cy="349.56" r="1.55" fill="url(#dg11)" stroke="none" stroke-width="0"/>
<circle cx="814.92" cy="454.01" r="1.47" fill="url(#dg11)" stroke="none" stroke-width="0"/>
<circle cx="774.27" cy="463.72" r="1.98" fill="url(#dg11)" stroke="none" stroke-width="0"/>
<circle cx="986.17" cy="376.29" r="2.38" fill="url(#dg11)" stroke="none" stroke-width="0"/>
<circle cx="910.24" cy="440.88" r="2.19" fill="url(#dg11)" stroke="none" stroke-width="0"/>
<circle cx="874.21" cy="324.67" r="1.55" fill="url(#dg11)" stroke="none" stroke-width="0"/>
<circle cx="959.83" cy="459.01" r="2.41" fill="url(#dg11)" stroke="none" stroke-width="0"/>
<circle cx="838.63" cy="418.58" r="2.26" fill="url(#dg11)" stroke="none" stroke-width="0"/>
<circle cx="907.65" cy="444.87" r="1.93" fill="url(#dg11)" stroke="none" stroke-width="0"/>
<circle cx="910.41" cy="423.41" r="1.62" fill="url(#dg11)" stroke="none" stroke-width="0"/>
<circle cx="970.88" cy="468.42" r="1.39" fill="url(#dg11)" stroke="none" stroke-width="0"/>
<circle cx="981.78" cy="469.34" r="2.10" fill="url(#dg11)" stroke="none" stroke-width="0"/>
<circle cx="772.75" cy="458.88" r="1.45" fill="url(#dg11)" stroke="none" stroke-width="0"/>
<circle cx="981.20" cy="420.29" r="1.37" fill="url(#dg11)" stroke="none" stroke-width="0"/>
<circle cx="800.44" cy="414.96" r="1.98" fill="url(#dg11)" stroke="none" stroke-width="0"/>
<circle cx="931.11" cy="463.63" r="1.56" fill="url(#dg11)" stroke="none" stroke-width="0"/>
<circle cx="763.44" cy="462.77" r="1.32" fill="url(#dg11)" stroke="none" stroke-width="0"/>
<circle cx="960.42" cy="328.50" r="2.27" fill="url(#dg11)" stroke="none" stroke-width="0"/>
<circle cx="939.34" cy="455.37" r="1.96" fill="url(#dg11)" stroke="none" stroke-width="0"/>
<circle cx="960.94" cy="342.78" r="2.11" fill="url(#dg11)" stroke="none" stroke-width="0"/>
<circle cx="837.29" cy="457.68" r="2.23" fill="url(#dg11)" stroke="none" stroke-width="0"/>
<circle cx="869.07" cy="396.85" r="1.33" fill="url(#dg11)" stroke="none" stroke-width="0"/>
<circle cx="770.41" cy="408.18" r="1.89" fill="url(#dg11)" stroke="none" stroke-width="0"/>
<circle cx="957.78" cy="410.45" r="1.47" fill="url(#dg11)" stroke="none" stroke-width="0"/>
<circle cx="844.50" cy="437.00" r="1.93" fill="url(#dg11)" stroke="none" stroke-width="0"/>
<circle cx="765.08" cy="448.68" r="2.29" fill="url(#dg11)" stroke="none" stroke-width="0"/>
<circle cx="781.91" cy="399.67" r="1.76" fill="url(#dg11)" stroke="none" stroke-width="0"/>
<circle cx="940.33" cy="361.01" r="1.58" fill="url(#dg11)" stroke="none" stroke-width="0"/>
<circle cx="872.49" cy="470.09" r="1.41" fill="url(#dg11)" stroke="none" stroke-width="0"/>
<circle cx="788.52" cy="412.59" r="2.36" fill="url(#dg11)" stroke="none" stroke-width="0"/>
<circle cx="878.31" cy="381.45" r="2.33" fill="url(#dg11)" stroke="none" stroke-width="0"/>
<circle cx="937.90" cy="320.34" r="2.36" fill="url(#dg11)" stroke="none" stroke-width="0"/>
<circle cx="806.88" cy="359.53" r="2.30" fill="url(#dg11)" stroke="none" stroke-width="0"/>
<circle cx="858.01" cy="442.13" r="1.50" fill="url(#dg11)" stroke="none" stroke-width="0"/>
<circle cx="959.94" cy="338.56" r="1.48" fill="url(#dg11)" stroke="none" stroke-width="0"/>
<circle cx="874.20" cy="365.57" r="1.95" fill="url(#dg11)" stroke="none" stroke-width="0"/>
<circle cx="966.66" cy="427.50" r="1.31" fill="url(#dg11)" stroke="none" stroke-width="0"/>
<circle cx="833.05" cy="399.93" r="1.88" fill="url(#dg11)" stroke="none" stroke-width="0"/>
<circle cx="924.14" cy="389.83" r="1.39" fill="url(#dg11)" stroke="none" stroke-width="0"/>
<circle cx="818.07" cy="450.32" r="1.73" fill="url(#dg11)" stroke="none" stroke-width="0"/>
<circle cx="935.66" cy="473.34" r="2.05" fill="url(#dg11)" stroke="none" stroke-width="0"/>
<circle cx="915.37" cy="410.69" r="1.68" fill="url(#dg11)" stroke="none" stroke-width="0"/>
<circle cx="968.63" cy="386.96" r="2.39" fill="url(#dg11)" stroke="none" stroke-width="0"/>
<circle cx="831.65" cy="453.64" r="2.24" fill="url(#dg11)" stroke="none" stroke-width="0"/>
<circle cx="900.99" cy="382.80" r="1.47" fill="url(#dg11)" stroke="none" stroke-width="0"/>
<circle cx="936.65" cy="369.50" r="2.09" fill="url(#dg11)" stroke="none" stroke-width="0"/>
<circle cx="792.76" cy="322.95" r="1.47" fill="url(#dg11)" stroke="none" stroke-width="0"/>
<circle cx="945.22" cy="338.78" r="2.38" fill="url(#dg11)" stroke="none" stroke-width="0"/>
<circle cx="846.62" cy="405.10" r="1.72" fill="url(#dg11)" stroke="none" stroke-width="0"/>
<circle cx="902.76" cy="324.76" r="1.78" fill="url(#dg11)" stroke="none" stroke-width="0"/>
<circle cx="973.90" cy="339.12" r="2.09" fill="url(#dg11)" stroke="none" stroke-width="0"/>
<circle cx="836.40" cy="359.25" r="1.33" fill="url(#dg11)" stroke="none" stroke-width="0"/>
<circle cx="767.23" cy="467.27" r="2.30" fill="url(#dg11)" stroke="none" stroke-width="0"/>
<circle cx="943.43" cy="443.61" r="2.44" fill="url(#dg11)" stroke="none" stroke-width="0"/>
<circle cx="798.45" cy="406.46" r="1.89" fill="url(#dg11)" stroke="none" stroke-width="0"/>
<circle cx="892.16" cy="465.36" r="2.21" fill="url(#dg11)" stroke="none" stroke-width="0"/>
<circle cx="981.19" cy="328.65" r="2.08" fill="url(#dg11)" stroke="none" stroke-width="0"/>
<circle cx="915.07" cy="433.28" r="2.04" fill="url(#dg11)" stroke="none" stroke-width="0"/>
<circle cx="950.23" cy="359.63" r="2.41" fill="url(#dg11)" stroke="none" stroke-width="0"/>
<circle cx="854.32" cy="408.94" r="2.38" fill="url(#dg11)" stroke="none" stroke-width="0"/>
<circle cx="921.43" cy="360.76" r="1.58" fill="url(#dg11)" stroke="none" stroke-width="0"/>
<circle cx="836.38" cy="413.56" r="2.50" fill="url(#dg11)" stroke="none" stroke-width="0"/>
<circle cx="965.52" cy="375.84" r="1.78" fill="url(#dg11)" stroke="none" stroke-width="0"/>
<circle cx="947.13" cy="356.45" r="1.79" fill="url(#dg11)" stroke="none" stroke-width="0"/>
<circle cx="765.67" cy="339.82" r="1.95" fill="url(#dg11)" stroke="none" stroke-width="0"/>
<circle cx="919.11" cy="411.56" r="1.74" fill="url(#dg11)" stroke="none" stroke-width="0"/>
<circle cx="977.26" cy="412.97" r="1.49" fill="url(#dg11)" stroke="none" stroke-width="0"/>
<circle cx="777.98" cy="471.34" r="2.49" fill="url(#dg11)" stroke="none" stroke-width="0"/>
<circle cx="970.24" cy="409.73" r="1.67" fill="url(#dg11)" stroke="none" stroke-width="0"/>
<circle cx="783.31" cy="352.14" r="1.57" fill="url(#dg11)" stroke="none" stroke-width="0"/>
<circle cx="972.11" cy="457.81" r="2.23" fill="url(#dg11)" stroke="none" stroke-width="0"/>
<circle cx="796.25" cy="348.89" r="1.66" fill="url(#dg11)" stroke="none" stroke-width="0"/>
<circle cx="976.55" cy="336.39" r="2.25" fill="url(#dg11)" stroke="none" stroke-width="0"/>
<circle cx="916.27" cy="400.30" r="2.45" fill="url(#dg11)" stroke="none" stroke-width="0"/>
<circle cx="821.88" cy="396.51" r="1.49" fill="url(#dg11)" stroke="none" stroke-width="0"/>
<circle cx="784.53" cy="314.49" r="1.68" fill="url(#dg11)" stroke="none" stroke-width="0"/>
<circle cx="790.17" cy="319.40" r="2.49" fill="url(#dg11)" stroke="none" stroke-width="0"/>
<circle cx="827.91" cy="457.42" r="2.14" fill="url(#dg11)" stroke="none" stroke-width="0"/>
<circle cx="927.69" cy="418.29" r="2.44" fill="url(#dg11)" stroke="none" stroke-width="0"/>
<circle cx="960.89" cy="428.99" r="1.97" fill="url(#dg11)" stroke="none" stroke-width="0"/>
<circle cx="919.21" cy="429.70" r="1.96" fill="url(#dg11)" stroke="none" stroke-width="0"/>
<circle cx="876.08" cy="334.87" r="2.31" fill="url(#dg11)" stroke="none" stroke-width="0"/>
<circle cx="871.93" cy="320.49" r="1.50" fill="url(#dg11)" stroke="none" stroke-width="0"/>
<circle cx="960.05" cy="351.84" r="1.77" fill="url(#dg11)" stroke="none" stroke-width="0"/>
<circle cx="916.59" cy="452.66" r="1.69" fill="url(#dg11)" stroke="none" stroke-width="0"/>
<circle cx="849.96" cy="379.64" r="1.33" fill="url(#dg11)" stroke="none" stroke-width="0"/>
<circle cx="960.47" cy="312.36" r="2.45" fill="url(#dg11)" stroke="none" stroke-width="0"/>
<circle cx="797.11" cy="335.29" r="2.32" fill="url(#dg11)" stroke="none" stroke-width="0"/>
<circle cx="948.46" cy="347.83" r="1.96" fill="url(#dg11)" stroke="none" stroke-width="0"/>
<circle cx="870.24" cy="428.84" r="1.52" fill="url(#dg11)" stroke="none" stroke-width="0"/>
<circle cx="948.93" cy="475.11" r="2.15" fill="url(#dg11)" stroke="none" stroke-width="0"/>
<circle cx="970.53" cy="465.23" r="1.76" fill="url(#dg11)" stroke="none" stroke-width="0"/>
<circle cx="953.90" cy="448.02" r="2.00" fill="url(#dg11)" stroke="none" stroke-width="0"/>
<circle cx="786.88" cy="412.30" r="2.39" fill="url(#dg11)" stroke="none" stroke-width="0"/>
<circle cx="831.54" cy="416.90" r="2.38" fill="url(#dg11)" stroke="none" stroke-width="0"/>
<circle cx="898.08" cy="315.40" r="2.06" fill="url(#dg11)" stroke="none" stroke-width="0"/>
<circle cx="820.38" cy="452.05" r="2.09" fill="url(#dg11)" stroke="none" stroke-width="0"/>
<circle cx="832.05" cy="458.32" r="2.05" fill="url(#dg11)" stroke="none" stroke-width="0"/>
<circle cx="839.21" cy="448.09" r="2.37" fill="url(#dg11)" stroke="none" stroke-width="0"/>
<circle cx="964.20" cy="456.26" r="2.09" fill="url(#dg11)" stroke="none" stroke-width="0"/>
<circle cx="920.33" cy="409.88" r="1.93" fill="url(#dg11)" stroke="none" stroke-width="0"/>
<circle cx="985.47" cy="367.98" r="1.40" fill="url(#dg11)" stroke="none" stroke-width="0"/>
<circle cx="923.67" cy="392.13" r="1.95" fill="url(#dg11)" stroke="none" stroke-width="0"/>
<circle cx="897.58" cy="350.80" r="1.54" fill="url(#dg11)" stroke="none" stroke-width="0"/>
<circle cx="778.80" cy="439.33" r="2.39" fill="url(#dg11)" stroke="none" stroke-width="0"/>
<circle cx="919.88" cy="328.64" r="2.47" fill="url(#dg11)" stroke="none" stroke-width="0"/>
<circle cx="949.20" cy="394.00" r="1.30" fill="url(#dg11)" stroke="none" stroke-width="0"/>
</g>
</g>
<rect x="758.20" y="304.70" width="234.60" height="175.50" fill="none" stroke="#262626" stroke-width="3"/>
<rect x="942.90" y="465.70" width="40.00" height="6.80" fill="#1c1c1c" stroke="none" stroke-width="0"/>
<text transform="translate(876.00 298.00) scale(1 1.06)" font-size="27.4" text-anchor="middle" fill="#161616">Combo</text>
<g clip-path="url(#cg02)">
<rect x="1018.70" y="94.20" width="236.80" height="178.30" fill="url(#g02)" stroke="none" stroke-width="0"/>
<g filter="url(#soft)">
<circle cx="1037.00" cy="104.00" r="4.50" fill="url(#lg02)" stroke="none" stroke-width="0"/>
<circle cx="1061.00" cy="148.00" r="5.50" fill="url(#lg02)" stroke="none" stroke-width="0"/>
<circle cx="1085.00" cy="134.00" r="6.00" fill="url(#dg02)" stroke="none" stroke-width="0"/>
<circle cx="1106.00" cy="122.00" r="8.50" fill="url(#dg02)" stroke="none" stroke-width="0"/>
<circle cx="1054.00" cy="166.00" r="5.00" fill="url(#lg02)" stroke="none" stroke-width="0"/>
<circle cx="1110.00" cy="157.00" r="5.00" fill="url(#lg02)" stroke="none" stroke-width="0"/>
<circle cx="1085.00" cy="178.00" r="8.00" fill="url(#dg02)" stroke="none" stroke-width="0"/>
<circle cx="1133.00" cy="174.00" r="5.00" fill="url(#lg02)" stroke="none" stroke-width="0"/>
<circle cx="1058.00" cy="192.00" r="5.00" fill="url(#lg02)" stroke="none" stroke-width="0"/>
<circle cx="1188.00" cy="131.00" r="7.00" fill="url(#dg02)" stroke="none" stroke-width="0"/>
<circle cx="1198.00" cy="103.00" r="5.00" fill="url(#lg02)" stroke="none" stroke-width="0"/>
<circle cx="1218.00" cy="146.00" r="4.50" fill="url(#dg02)" stroke="none" stroke-width="0"/>
<circle cx="1214.00" cy="165.00" r="4.60" fill="url(#Dg02)" stroke="none" stroke-width="0"/>
<circle cx="1088.00" cy="214.00" r="5.00" fill="url(#lg02)" stroke="none" stroke-width="0"/>
<circle cx="1120.00" cy="226.00" r="5.00" fill="url(#lg02)" stroke="none" stroke-width="0"/>
<circle cx="1105.00" cy="236.00" r="5.00" fill="url(#lg02)" stroke="none" stroke-width="0"/>
<circle cx="1161.00" cy="222.00" r="8.60" fill="url(#Dg02)" stroke="none" stroke-width="0"/>
<circle cx="1212.00" cy="216.00" r="10.10" fill="url(#Dg02)" stroke="none" stroke-width="0"/>
<circle cx="1111.00" cy="249.00" r="4.50" fill="url(#dg02)" stroke="none" stroke-width="0"/>
<circle cx="1182.00" cy="250.00" r="5.00" fill="url(#lg02)" stroke="none" stroke-width="0"/>
<circle cx="1164.73" cy="223.56" r="3.19" fill="url(#lg02)" stroke="none" stroke-width="0"/>
<circle cx="1191.03" cy="253.58" r="2.04" fill="url(#dg02)" stroke="none" stroke-width="0"/>
<circle cx="1236.77" cy="208.12" r="3.35" fill="url(#dg02)" stroke="none" stroke-width="0"/>
<circle cx="1130.15" cy="141.21" r="2.82" fill="url(#dg02)" stroke="none" stroke-width="0"/>
<circle cx="1027.65" cy="136.24" r="2.42" fill="url(#lg02)" stroke="none" stroke-width="0"/>
<circle cx="1196.84" cy="126.74" r="3.20" fill="url(#dg02)" stroke="none" stroke-width="0"/>
<circle cx="1163.50" cy="121.27" r="2.00" fill="url(#lg02)" stroke="none" stroke-width="0"/>
<circle cx="1071.79" cy="136.03" r="3.47" fill="url(#lg02)" stroke="none" stroke-width="0"/>
</g>
</g>
<rect x="1020.20" y="95.70" width="233.80" height="175.30" fill="none" stroke="#262626" stroke-width="3"/>
<rect x="1204.10" y="256.50" width="40.00" height="6.80" fill="#1c1c1c" stroke="none" stroke-width="0"/>
<text transform="translate(1143.00 88.50) scale(1 1.06)" font-size="27.4" text-anchor="middle" fill="#161616">Control</text>
<g clip-path="url(#cg03)">
<rect x="1262.40" y="94.20" width="237.10" height="178.30" fill="url(#g03)" stroke="none" stroke-width="0"/>
<g filter="url(#soft)">
<circle cx="1288.00" cy="121.00" r="3.50" fill="url(#lg03)" stroke="none" stroke-width="0"/>
<circle cx="1326.00" cy="127.00" r="3.50" fill="url(#lg03)" stroke="none" stroke-width="0"/>
<circle cx="1366.00" cy="113.00" r="5.00" fill="url(#lg03)" stroke="none" stroke-width="0"/>
<circle cx="1310.00" cy="153.00" r="5.50" fill="url(#dg03)" stroke="none" stroke-width="0"/>
<circle cx="1348.00" cy="140.00" r="3.50" fill="url(#lg03)" stroke="none" stroke-width="0"/>
<circle cx="1394.00" cy="141.00" r="5.10" fill="url(#Dg03)" stroke="none" stroke-width="0"/>
<circle cx="1413.00" cy="113.00" r="5.00" fill="url(#dg03)" stroke="none" stroke-width="0"/>
<circle cx="1463.00" cy="134.00" r="3.50" fill="url(#dg03)" stroke="none" stroke-width="0"/>
<circle cx="1322.00" cy="187.00" r="3.50" fill="url(#dg03)" stroke="none" stroke-width="0"/>
<circle cx="1375.00" cy="171.00" r="4.00" fill="url(#dg03)" stroke="none" stroke-width="0"/>
<circle cx="1432.00" cy="182.00" r="5.00" fill="url(#dg03)" stroke="none" stroke-width="0"/>
<circle cx="1449.00" cy="172.00" r="3.50" fill="url(#dg03)" stroke="none" stroke-width="0"/>
<circle cx="1356.00" cy="201.00" r="4.00" fill="url(#dg03)" stroke="none" stroke-width="0"/>
<circle cx="1400.00" cy="202.00" r="4.10" fill="url(#Dg03)" stroke="none" stroke-width="0"/>
<circle cx="1341.00" cy="229.00" r="3.50" fill="url(#dg03)" stroke="none" stroke-width="0"/>
<circle cx="1428.00" cy="227.00" r="5.00" fill="url(#dg03)" stroke="none" stroke-width="0"/>
<circle cx="1329.00" cy="260.00" r="5.50" fill="url(#dg03)" stroke="none" stroke-width="0"/>
<circle cx="1453.00" cy="260.00" r="4.50" fill="url(#dg03)" stroke="none" stroke-width="0"/>
<circle cx="1446.98" cy="236.89" r="2.57" fill="url(#dg03)" stroke="none" stroke-width="0"/>
<circle cx="1268.50" cy="210.43" r="2.55" fill="url(#lg03)" stroke="none" stroke-width="0"/>
<circle cx="1352.40" cy="228.27" r="2.19" fill="url(#lg03)" stroke="none" stroke-width="0"/>
<circle cx="1432.68" cy="169.05" r="2.67" fill="url(#lg03)" stroke="none" stroke-width="0"/>
<circle cx="1311.84" cy="192.27" r="3.15" fill="url(#dg03)" stroke="none" stroke-width="0"/>
<circle cx="1449.24" cy="214.23" r="3.22" fill="url(#dg03)" stroke="none" stroke-width="0"/>
<circle cx="1289.36" cy="233.29" r="3.15" fill="url(#dg03)" stroke="none" stroke-width="0"/>
<circle cx="1289.51" cy="132.99" r="2.84" fill="url(#dg03)" stroke="none" stroke-width="0"/>
<circle cx="1482.55" cy="198.08" r="2.06" fill="url(#lg03)" stroke="none" stroke-width="0"/>
<circle cx="1349.52" cy="255.31" r="3.34" fill="url(#dg03)" stroke="none" stroke-width="0"/>
<circle cx="1413.49" cy="216.26" r="3.15" fill="url(#lg03)" stroke="none" stroke-width="0"/>
<circle cx="1274.80" cy="160.30" r="2.78" fill="url(#dg03)" stroke="none" stroke-width="0"/>
<circle cx="1401.02" cy="115.12" r="3.28" fill="url(#dg03)" stroke="none" stroke-width="0"/>
<circle cx="1294.70" cy="210.41" r="2.26" fill="url(#dg03)" stroke="none" stroke-width="0"/>
<circle cx="1377.29" cy="123.17" r="2.08" fill="url(#lg03)" stroke="none" stroke-width="0"/>
<circle cx="1425.57" cy="102.28" r="3.10" fill="url(#dg03)" stroke="none" stroke-width="0"/>
<circle cx="1343.34" cy="250.61" r="2.82" fill="url(#dg03)" stroke="none" stroke-width="0"/>
<circle cx="1353.35" cy="164.92" r="1.93" fill="url(#lg03)" stroke="none" stroke-width="0"/>
</g>
</g>
<rect x="1263.90" y="95.70" width="234.10" height="175.30" fill="none" stroke="#262626" stroke-width="3"/>
<rect x="1448.10" y="256.50" width="40.00" height="6.80" fill="#1c1c1c" stroke="none" stroke-width="0"/>
<text transform="translate(1383.80 88.50) scale(1 1.06)" font-size="27.4" text-anchor="middle" fill="#161616">Trametinib</text>
<g clip-path="url(#cg12)">
<rect x="1018.70" y="303.20" width="236.80" height="178.50" fill="url(#g12)" stroke="none" stroke-width="0"/>
<g filter="url(#soft)">
<circle cx="1171.00" cy="311.00" r="4.50" fill="url(#dg12)" stroke="none" stroke-width="0"/>
<circle cx="1151.00" cy="330.00" r="4.50" fill="url(#lg12)" stroke="none" stroke-width="0"/>
<circle cx="1134.00" cy="347.00" r="6.50" fill="url(#dg12)" stroke="none" stroke-width="0"/>
<circle cx="1068.00" cy="354.00" r="4.50" fill="url(#lg12)" stroke="none" stroke-width="0"/>
<circle cx="1096.00" cy="368.00" r="7.50" fill="url(#dg12)" stroke="none" stroke-width="0"/>
<circle cx="1139.00" cy="377.00" r="3.00" fill="url(#dg12)" stroke="none" stroke-width="0"/>
<circle cx="1197.00" cy="371.00" r="7.60" fill="url(#Dg12)" stroke="none" stroke-width="0"/>
<circle cx="1223.00" cy="357.00" r="5.50" fill="url(#dg12)" stroke="none" stroke-width="0"/>
<circle cx="1161.00" cy="396.00" r="6.00" fill="url(#dg12)" stroke="none" stroke-width="0"/>
<circle cx="1089.00" cy="413.00" r="3.50" fill="url(#dg12)" stroke="none" stroke-width="0"/>
<circle cx="1060.00" cy="417.00" r="5.00" fill="url(#lg12)" stroke="none" stroke-width="0"/>
<circle cx="1239.00" cy="415.00" r="4.00" fill="url(#dg12)" stroke="none" stroke-width="0"/>
<circle cx="1086.00" cy="467.00" r="7.50" fill="url(#dg12)" stroke="none" stroke-width="0"/>
<circle cx="1166.00" cy="459.00" r="5.50" fill="url(#dg12)" stroke="none" stroke-width="0"/>
<circle cx="1025.00" cy="427.00" r="3.50" fill="url(#dg12)" stroke="none" stroke-width="0"/>
<circle cx="1097.50" cy="334.32" r="2.98" fill="url(#dg12)" stroke="none" stroke-width="0"/>
<circle cx="1145.17" cy="370.09" r="2.09" fill="url(#dg12)" stroke="none" stroke-width="0"/>
<circle cx="1033.13" cy="381.40" r="2.10" fill="url(#dg12)" stroke="none" stroke-width="0"/>
<circle cx="1120.13" cy="446.87" r="2.19" fill="url(#dg12)" stroke="none" stroke-width="0"/>
<circle cx="1165.75" cy="466.99" r="2.87" fill="url(#dg12)" stroke="none" stroke-width="0"/>
<circle cx="1244.16" cy="316.96" r="3.29" fill="url(#dg12)" stroke="none" stroke-width="0"/>
<circle cx="1057.13" cy="328.81" r="2.46" fill="url(#lg12)" stroke="none" stroke-width="0"/>
<circle cx="1065.33" cy="406.04" r="2.96" fill="url(#dg12)" stroke="none" stroke-width="0"/>
</g>
</g>
<rect x="1020.20" y="304.70" width="233.80" height="175.50" fill="none" stroke="#262626" stroke-width="3"/>
<rect x="1204.10" y="465.70" width="40.00" height="6.80" fill="#1c1c1c" stroke="none" stroke-width="0"/>
<text transform="translate(1146.00 298.00) scale(1 1.06)" font-size="27.4" text-anchor="middle" fill="#161616">Lestaurtinib</text>
<g clip-path="url(#cg13)">
<rect x="1262.40" y="303.20" width="237.10" height="178.50" fill="url(#g13)" stroke="none" stroke-width="0"/>
<rect x="1262.40" y="303.20" width="237.10" height="178.50" fill="url(#eg13)" stroke="none" stroke-width="0"/>
<g filter="url(#soft)">
<circle cx="1309.00" cy="329.00" r="5.00" fill="url(#dg13)" stroke="none" stroke-width="0"/>
<circle cx="1331.00" cy="351.00" r="4.00" fill="url(#lg13)" stroke="none" stroke-width="0"/>
<circle cx="1362.00" cy="346.00" r="4.50" fill="url(#dg13)" stroke="none" stroke-width="0"/>
<circle cx="1306.00" cy="369.00" r="4.50" fill="url(#lg13)" stroke="none" stroke-width="0"/>
<circle cx="1338.00" cy="384.00" r="3.50" fill="url(#dg13)" stroke="none" stroke-width="0"/>
<circle cx="1365.00" cy="402.00" r="4.00" fill="url(#lg13)" stroke="none" stroke-width="0"/>
<circle cx="1416.00" cy="371.00" r="4.00" fill="url(#dg13)" stroke="none" stroke-width="0"/>
<circle cx="1447.00" cy="352.00" r="4.00" fill="url(#dg13)" stroke="none" stroke-width="0"/>
<circle cx="1420.00" cy="407.00" r="4.50" fill="url(#dg13)" stroke="none" stroke-width="0"/>
<circle cx="1292.00" cy="427.00" r="5.00" fill="url(#lg13)" stroke="none" stroke-width="0"/>
<circle cx="1410.00" cy="447.00" r="3.50" fill="url(#dg13)" stroke="none" stroke-width="0"/>
<circle cx="1446.00" cy="460.00" r="4.50" fill="url(#dg13)" stroke="none" stroke-width="0"/>
<circle cx="1321.00" cy="472.00" r="4.00" fill="url(#lg13)" stroke="none" stroke-width="0"/>
<circle cx="1483.00" cy="317.00" r="4.50" fill="url(#dg13)" stroke="none" stroke-width="0"/>
<circle cx="1459.00" cy="368.00" r="3.50" fill="url(#dg13)" stroke="none" stroke-width="0"/>
<circle cx="1319.43" cy="469.42" r="1.75" fill="url(#lg13)" stroke="none" stroke-width="0"/>
<circle cx="1287.58" cy="350.40" r="3.50" fill="url(#dg13)" stroke="none" stroke-width="0"/>
<circle cx="1412.88" cy="385.65" r="2.41" fill="url(#dg13)" stroke="none" stroke-width="0"/>
<circle cx="1311.67" cy="447.48" r="1.68" fill="url(#dg13)" stroke="none" stroke-width="0"/>
<circle cx="1272.90" cy="353.62" r="2.32" fill="url(#lg13)" stroke="none" stroke-width="0"/>
<circle cx="1353.73" cy="328.14" r="2.02" fill="url(#lg13)" stroke="none" stroke-width="0"/>
<circle cx="1282.60" cy="412.46" r="2.25" fill="url(#lg13)" stroke="none" stroke-width="0"/>
<circle cx="1344.58" cy="424.30" r="2.50" fill="url(#lg13)" stroke="none" stroke-width="0"/>
<circle cx="1471.30" cy="406.03" r="1.78" fill="url(#dg13)" stroke="none" stroke-width="0"/>
<circle cx="1481.36" cy="390.56" r="1.89" fill="url(#lg13)" stroke="none" stroke-width="0"/>
<circle cx="1398.72" cy="430.57" r="3.26" fill="url(#dg13)" stroke="none" stroke-width="0"/>
<circle cx="1348.69" cy="455.40" r="1.77" fill="url(#lg13)" stroke="none" stroke-width="0"/>
<circle cx="1290.37" cy="424.12" r="2.90" fill="url(#lg13)" stroke="none" stroke-width="0"/>
<circle cx="1458.27" cy="393.05" r="1.90" fill="url(#dg13)" stroke="none" stroke-width="0"/>
<circle cx="1387.41" cy="394.08" r="1.64" fill="url(#lg13)" stroke="none" stroke-width="0"/>
<circle cx="1382.62" cy="425.97" r="1.94" fill="url(#dg13)" stroke="none" stroke-width="0"/>
</g>
</g>
<rect x="1263.90" y="304.70" width="234.10" height="175.50" fill="none" stroke="#262626" stroke-width="3"/>
<rect x="1448.10" y="465.70" width="40.00" height="6.80" fill="#1c1c1c" stroke="none" stroke-width="0"/>
<text transform="translate(1388.00 298.00) scale(1 1.06)" font-size="27.4" text-anchor="middle" fill="#161616">Combo</text>
<g clip-path="url(#cg04)">
<rect x="1520.60" y="94.20" width="236.90" height="178.30" fill="url(#g04)" stroke="none" stroke-width="0"/>
<g filter="url(#soft)">
<circle cx="1544.00" cy="112.00" r="6.50" fill="url(#lg04)" stroke="none" stroke-width="0"/>
<circle cx="1681.00" cy="116.00" r="4.50" fill="url(#dg04)" stroke="none" stroke-width="0"/>
<circle cx="1700.00" cy="111.00" r="6.50" fill="url(#lg04)" stroke="none" stroke-width="0"/>
<circle cx="1714.00" cy="120.00" r="6.50" fill="url(#lg04)" stroke="none" stroke-width="0"/>
<circle cx="1658.00" cy="138.00" r="5.00" fill="url(#lg04)" stroke="none" stroke-width="0"/>
<circle cx="1580.00" cy="158.00" r="5.50" fill="url(#lg04)" stroke="none" stroke-width="0"/>
<circle cx="1591.00" cy="170.00" r="4.50" fill="url(#dg04)" stroke="none" stroke-width="0"/>
<circle cx="1630.00" cy="173.00" r="5.00" fill="url(#dg04)" stroke="none" stroke-width="0"/>
<circle cx="1600.00" cy="150.00" r="5.50" fill="url(#dg04)" stroke="none" stroke-width="0"/>
<circle cx="1635.00" cy="190.00" r="5.00" fill="url(#lg04)" stroke="none" stroke-width="0"/>
<circle cx="1555.00" cy="180.00" r="5.50" fill="url(#dg04)" stroke="none" stroke-width="0"/>
<circle cx="1545.00" cy="197.00" r="5.50" fill="url(#dg04)" stroke="none" stroke-width="0"/>
<circle cx="1564.00" cy="199.00" r="4.50" fill="url(#dg04)" stroke="none" stroke-width="0"/>
<circle cx="1603.00" cy="207.00" r="6.50" fill="url(#dg04)" stroke="none" stroke-width="0"/>
<circle cx="1652.00" cy="200.00" r="5.00" fill="url(#dg04)" stroke="none" stroke-width="0"/>
<circle cx="1678.00" cy="200.00" r="4.50" fill="url(#lg04)" stroke="none" stroke-width="0"/>
<circle cx="1692.00" cy="200.00" r="5.50" fill="url(#lg04)" stroke="none" stroke-width="0"/>
<circle cx="1724.00" cy="180.00" r="5.50" fill="url(#lg04)" stroke="none" stroke-width="0"/>
<circle cx="1736.00" cy="152.00" r="5.50" fill="url(#lg04)" stroke="none" stroke-width="0"/>
<circle cx="1738.00" cy="184.00" r="4.50" fill="url(#lg04)" stroke="none" stroke-width="0"/>
<circle cx="1590.00" cy="232.00" r="6.50" fill="url(#lg04)" stroke="none" stroke-width="0"/>
<circle cx="1618.00" cy="234.00" r="5.50" fill="url(#lg04)" stroke="none" stroke-width="0"/>
<circle cx="1665.00" cy="245.00" r="6.50" fill="url(#lg04)" stroke="none" stroke-width="0"/>
<circle cx="1697.00" cy="240.00" r="4.50" fill="url(#lg04)" stroke="none" stroke-width="0"/>
<circle cx="1733.00" cy="244.00" r="5.50" fill="url(#lg04)" stroke="none" stroke-width="0"/>
<circle cx="1567.00" cy="225.00" r="5.00" fill="url(#dg04)" stroke="none" stroke-width="0"/>
<circle cx="1646.00" cy="222.00" r="4.00" fill="url(#lg04)" stroke="none" stroke-width="0"/>
<circle cx="1713.00" cy="219.00" r="4.50" fill="url(#lg04)" stroke="none" stroke-width="0"/>
<circle cx="1630.73" cy="162.28" r="2.78" fill="url(#lg04)" stroke="none" stroke-width="0"/>
<circle cx="1528.05" cy="183.81" r="4.30" fill="url(#dg04)" stroke="none" stroke-width="0"/>
<circle cx="1651.26" cy="202.75" r="2.58" fill="url(#dg04)" stroke="none" stroke-width="0"/>
<circle cx="1684.81" cy="175.37" r="3.95" fill="url(#dg04)" stroke="none" stroke-width="0"/>
<circle cx="1580.13" cy="118.65" r="3.51" fill="url(#lg04)" stroke="none" stroke-width="0"/>
<circle cx="1659.39" cy="228.95" r="3.27" fill="url(#lg04)" stroke="none" stroke-width="0"/>
<circle cx="1549.47" cy="148.62" r="3.85" fill="url(#lg04)" stroke="none" stroke-width="0"/>
<circle cx="1621.45" cy="114.79" r="3.03" fill="url(#dg04)" stroke="none" stroke-width="0"/>
<circle cx="1589.84" cy="234.82" r="2.90" fill="url(#lg04)" stroke="none" stroke-width="0"/>
<circle cx="1724.37" cy="109.31" r="3.26" fill="url(#dg04)" stroke="none" stroke-width="0"/>
<circle cx="1531.88" cy="170.83" r="4.31" fill="url(#dg04)" stroke="none" stroke-width="0"/>
<circle cx="1660.83" cy="120.36" r="3.66" fill="url(#lg04)" stroke="none" stroke-width="0"/>
<circle cx="1572.27" cy="101.57" r="2.67" fill="url(#dg04)" stroke="none" stroke-width="0"/>
<circle cx="1530.53" cy="114.31" r="3.49" fill="url(#lg04)" stroke="none" stroke-width="0"/>
<circle cx="1621.08" cy="166.41" r="3.78" fill="url(#dg04)" stroke="none" stroke-width="0"/>
<circle cx="1657.00" cy="128.90" r="3.72" fill="url(#lg04)" stroke="none" stroke-width="0"/>
</g>
</g>
<rect x="1522.10" y="95.70" width="233.90" height="175.30" fill="none" stroke="#262626" stroke-width="3"/>
<rect x="1706.10" y="256.50" width="40.00" height="6.80" fill="#1c1c1c" stroke="none" stroke-width="0"/>
<text transform="translate(1638.00 88.50) scale(1 1.06)" font-size="27.4" text-anchor="middle" fill="#161616">Control</text>
<g clip-path="url(#cg05)">
<rect x="1765.00" y="94.20" width="239.00" height="178.30" fill="url(#g05)" stroke="none" stroke-width="0"/>
<g filter="url(#soft)">
<circle cx="1803.00" cy="132.00" r="5.50" fill="url(#lg05)" stroke="none" stroke-width="0"/>
<circle cx="1804.00" cy="154.00" r="5.00" fill="url(#lg05)" stroke="none" stroke-width="0"/>
<circle cx="1823.00" cy="158.00" r="5.00" fill="url(#dg05)" stroke="none" stroke-width="0"/>
<circle cx="1848.00" cy="153.00" r="5.50" fill="url(#dg05)" stroke="none" stroke-width="0"/>
<circle cx="1886.00" cy="122.00" r="5.50" fill="url(#lg05)" stroke="none" stroke-width="0"/>
<circle cx="1894.00" cy="123.00" r="4.50" fill="url(#lg05)" stroke="none" stroke-width="0"/>
<circle cx="1882.00" cy="138.00" r="5.50" fill="url(#dg05)" stroke="none" stroke-width="0"/>
<circle cx="1904.00" cy="132.00" r="5.50" fill="url(#dg05)" stroke="none" stroke-width="0"/>
<circle cx="1916.00" cy="143.00" r="4.50" fill="url(#dg05)" stroke="none" stroke-width="0"/>
<circle cx="1940.00" cy="135.00" r="4.50" fill="url(#lg05)" stroke="none" stroke-width="0"/>
<circle cx="1944.00" cy="122.00" r="6.50" fill="url(#dg05)" stroke="none" stroke-width="0"/>
<circle cx="1860.00" cy="172.00" r="6.50" fill="url(#dg05)" stroke="none" stroke-width="0"/>
<circle cx="1888.00" cy="178.00" r="4.50" fill="url(#dg05)" stroke="none" stroke-width="0"/>
<circle cx="1954.00" cy="178.00" r="5.50" fill="url(#dg05)" stroke="none" stroke-width="0"/>
<circle cx="1780.00" cy="165.00" r="6.50" fill="url(#lg05)" stroke="none" stroke-width="0"/>
<circle cx="1809.00" cy="186.00" r="5.50" fill="url(#dg05)" stroke="none" stroke-width="0"/>
<circle cx="1935.00" cy="189.00" r="5.00" fill="url(#lg05)" stroke="none" stroke-width="0"/>
<circle cx="1842.00" cy="209.00" r="5.00" fill="url(#lg05)" stroke="none" stroke-width="0"/>
<circle cx="1895.00" cy="204.00" r="5.00" fill="url(#lg05)" stroke="none" stroke-width="0"/>
<circle cx="1794.00" cy="219.00" r="5.50" fill="url(#dg05)" stroke="none" stroke-width="0"/>
<circle cx="1872.00" cy="220.00" r="4.50" fill="url(#dg05)" stroke="none" stroke-width="0"/>
<circle cx="1948.00" cy="241.00" r="8.60" fill="url(#Dg05)" stroke="none" stroke-width="0"/>
<circle cx="1897.00" cy="252.00" r="6.50" fill="url(#dg05)" stroke="none" stroke-width="0"/>
<circle cx="1900.71" cy="171.52" r="3.66" fill="url(#dg05)" stroke="none" stroke-width="0"/>
<circle cx="1955.62" cy="237.16" r="3.81" fill="url(#dg05)" stroke="none" stroke-width="0"/>
<circle cx="1889.19" cy="154.71" r="3.00" fill="url(#lg05)" stroke="none" stroke-width="0"/>
<circle cx="1997.22" cy="107.61" r="4.22" fill="url(#lg05)" stroke="none" stroke-width="0"/>
<circle cx="1857.62" cy="147.37" r="3.85" fill="url(#dg05)" stroke="none" stroke-width="0"/>
<circle cx="1926.69" cy="210.27" r="2.77" fill="url(#lg05)" stroke="none" stroke-width="0"/>
<circle cx="1994.01" cy="261.41" r="3.73" fill="url(#dg05)" stroke="none" stroke-width="0"/>
<circle cx="1771.92" cy="122.48" r="4.38" fill="url(#dg05)" stroke="none" stroke-width="0"/>
<circle cx="1854.12" cy="249.57" r="3.13" fill="url(#dg05)" stroke="none" stroke-width="0"/>
<circle cx="1869.98" cy="111.01" r="3.67" fill="url(#lg05)" stroke="none" stroke-width="0"/>
</g>
</g>
<rect x="1766.50" y="95.70" width="236.00" height="175.30" fill="none" stroke="#262626" stroke-width="3"/>
<rect x="1952.60" y="256.50" width="40.00" height="6.80" fill="#1c1c1c" stroke="none" stroke-width="0"/>
<text transform="translate(1888.80 88.50) scale(1 1.06)" font-size="27.4" text-anchor="middle" fill="#161616">Trametinib</text>
<g clip-path="url(#cg14)">
<rect x="1520.60" y="303.20" width="236.90" height="178.50" fill="url(#g14)" stroke="none" stroke-width="0"/>
<g filter="url(#soft)">
<circle cx="1535.00" cy="344.00" r="7.50" fill="url(#dg14)" stroke="none" stroke-width="0"/>
<circle cx="1556.00" cy="372.00" r="5.50" fill="url(#lg14)" stroke="none" stroke-width="0"/>
<circle cx="1618.00" cy="354.00" r="5.00" fill="url(#dg14)" stroke="none" stroke-width="0"/>
<circle cx="1628.00" cy="357.00" r="5.00" fill="url(#dg14)" stroke="none" stroke-width="0"/>
<circle cx="1654.00" cy="359.00" r="5.50" fill="url(#lg14)" stroke="none" stroke-width="0"/>
<circle cx="1720.00" cy="339.00" r="6.50" fill="url(#lg14)" stroke="none" stroke-width="0"/>
<circle cx="1734.00" cy="335.00" r="6.50" fill="url(#lg14)" stroke="none" stroke-width="0"/>
<circle cx="1743.00" cy="357.00" r="5.00" fill="url(#dg14)" stroke="none" stroke-width="0"/>
<circle cx="1649.00" cy="369.00" r="5.00" fill="url(#dg14)" stroke="none" stroke-width="0"/>
<circle cx="1683.00" cy="394.00" r="4.50" fill="url(#dg14)" stroke="none" stroke-width="0"/>
<circle cx="1624.00" cy="415.00" r="4.00" fill="url(#dg14)" stroke="none" stroke-width="0"/>
<circle cx="1555.00" cy="410.00" r="5.00" fill="url(#dg14)" stroke="none" stroke-width="0"/>
<circle cx="1593.00" cy="420.00" r="7.60" fill="url(#Dg14)" stroke="none" stroke-width="0"/>
<circle cx="1611.00" cy="429.00" r="6.50" fill="url(#dg14)" stroke="none" stroke-width="0"/>
<circle cx="1653.00" cy="425.00" r="5.00" fill="url(#dg14)" stroke="none" stroke-width="0"/>
<circle cx="1536.00" cy="406.00" r="8.50" fill="url(#dg14)" stroke="none" stroke-width="0"/>
<circle cx="1678.00" cy="448.00" r="6.50" fill="url(#dg14)" stroke="none" stroke-width="0"/>
<circle cx="1732.00" cy="438.00" r="4.50" fill="url(#lg14)" stroke="none" stroke-width="0"/>
<circle cx="1641.00" cy="467.00" r="5.50" fill="url(#dg14)" stroke="none" stroke-width="0"/>
<circle cx="1633.00" cy="473.00" r="4.50" fill="url(#dg14)" stroke="none" stroke-width="0"/>
<circle cx="1725.00" cy="474.00" r="4.50" fill="url(#lg14)" stroke="none" stroke-width="0"/>
<circle cx="1569.00" cy="443.00" r="4.50" fill="url(#dg14)" stroke="none" stroke-width="0"/>
<circle cx="1541.00" cy="462.00" r="4.50" fill="url(#dg14)" stroke="none" stroke-width="0"/>
<circle cx="1628.34" cy="402.40" r="3.85" fill="url(#dg14)" stroke="none" stroke-width="0"/>
<circle cx="1640.81" cy="407.00" r="2.37" fill="url(#dg14)" stroke="none" stroke-width="0"/>
<circle cx="1668.26" cy="441.23" r="2.19" fill="url(#dg14)" stroke="none" stroke-width="0"/>
<circle cx="1546.99" cy="444.01" r="3.39" fill="url(#dg14)" stroke="none" stroke-width="0"/>
<circle cx="1747.50" cy="469.83" r="3.31" fill="url(#lg14)" stroke="none" stroke-width="0"/>
<circle cx="1562.02" cy="311.70" r="3.06" fill="url(#dg14)" stroke="none" stroke-width="0"/>
<circle cx="1569.38" cy="349.48" r="2.06" fill="url(#dg14)" stroke="none" stroke-width="0"/>
<circle cx="1625.68" cy="449.46" r="3.04" fill="url(#lg14)" stroke="none" stroke-width="0"/>
<circle cx="1639.00" cy="419.50" r="2.91" fill="url(#dg14)" stroke="none" stroke-width="0"/>
<circle cx="1750.97" cy="474.98" r="3.68" fill="url(#lg14)" stroke="none" stroke-width="0"/>
<circle cx="1597.51" cy="347.44" r="2.58" fill="url(#dg14)" stroke="none" stroke-width="0"/>
<circle cx="1698.94" cy="375.87" r="3.69" fill="url(#dg14)" stroke="none" stroke-width="0"/>
<circle cx="1742.06" cy="450.28" r="2.00" fill="url(#dg14)" stroke="none" stroke-width="0"/>
<circle cx="1731.32" cy="387.45" r="3.96" fill="url(#dg14)" stroke="none" stroke-width="0"/>
</g>
</g>
<rect x="1522.10" y="304.70" width="233.90" height="175.50" fill="none" stroke="#262626" stroke-width="3"/>
<rect x="1706.10" y="465.70" width="40.00" height="6.80" fill="#1c1c1c" stroke="none" stroke-width="0"/>
<text transform="translate(1649.00 298.00) scale(1 1.06)" font-size="27.4" text-anchor="middle" fill="#161616">Lestaurtinib</text>
<g clip-path="url(#cg15)">
<rect x="1765.00" y="303.20" width="239.00" height="178.50" fill="url(#g15)" stroke="none" stroke-width="0"/>
<rect x="1765.00" y="303.20" width="239.00" height="178.50" fill="url(#eg15)" stroke="none" stroke-width="0"/>
<g filter="url(#soft)">
<circle cx="1815.00" cy="315.00" r="4.00" fill="url(#dg15)" stroke="none" stroke-width="0"/>
<circle cx="1819.00" cy="334.00" r="3.50" fill="url(#dg15)" stroke="none" stroke-width="0"/>
<circle cx="1872.00" cy="322.00" r="5.50" fill="url(#lg15)" stroke="none" stroke-width="0"/>
<circle cx="1890.00" cy="341.00" r="4.50" fill="url(#lg15)" stroke="none" stroke-width="0"/>
<circle cx="1788.00" cy="361.00" r="4.50" fill="url(#dg15)" stroke="none" stroke-width="0"/>
<circle cx="1857.00" cy="374.00" r="5.00" fill="url(#dg15)" stroke="none" stroke-width="0"/>
<circle cx="1938.00" cy="359.00" r="4.50" fill="url(#lg15)" stroke="none" stroke-width="0"/>
<circle cx="1772.00" cy="378.00" r="5.00" fill="url(#dg15)" stroke="none" stroke-width="0"/>
<circle cx="1838.00" cy="399.00" r="4.50" fill="url(#dg15)" stroke="none" stroke-width="0"/>
<circle cx="1900.00" cy="391.00" r="3.00" fill="url(#dg15)" stroke="none" stroke-width="0"/>
<circle cx="1875.00" cy="420.00" r="6.50" fill="url(#lg15)" stroke="none" stroke-width="0"/>
<circle cx="1894.00" cy="438.00" r="6.50" fill="url(#lg15)" stroke="none" stroke-width="0"/>
<circle cx="1929.00" cy="441.00" r="3.00" fill="url(#dg15)" stroke="none" stroke-width="0"/>
<circle cx="1948.00" cy="447.00" r="4.50" fill="url(#dg15)" stroke="none" stroke-width="0"/>
<circle cx="1896.00" cy="469.00" r="4.50" fill="url(#dg15)" stroke="none" stroke-width="0"/>
<circle cx="1878.73" cy="418.67" r="2.83" fill="url(#dg15)" stroke="none" stroke-width="0"/>
<circle cx="1773.47" cy="371.60" r="2.05" fill="url(#lg15)" stroke="none" stroke-width="0"/>
<circle cx="1927.76" cy="409.34" r="2.62" fill="url(#lg15)" stroke="none" stroke-width="0"/>
<circle cx="1803.98" cy="382.47" r="1.82" fill="url(#lg15)" stroke="none" stroke-width="0"/>
<circle cx="1784.35" cy="445.53" r="1.65" fill="url(#lg15)" stroke="none" stroke-width="0"/>
<circle cx="1847.50" cy="376.57" r="3.18" fill="url(#dg15)" stroke="none" stroke-width="0"/>
<circle cx="1784.80" cy="461.55" r="2.52" fill="url(#dg15)" stroke="none" stroke-width="0"/>
<circle cx="1995.08" cy="466.83" r="1.73" fill="url(#dg15)" stroke="none" stroke-width="0"/>
<circle cx="1801.66" cy="361.24" r="2.74" fill="url(#dg15)" stroke="none" stroke-width="0"/>
<circle cx="1929.18" cy="317.75" r="1.84" fill="url(#lg15)" stroke="none" stroke-width="0"/>
<circle cx="1861.92" cy="378.94" r="2.69" fill="url(#dg15)" stroke="none" stroke-width="0"/>
<circle cx="1858.30" cy="314.28" r="2.95" fill="url(#lg15)" stroke="none" stroke-width="0"/>
</g>
</g>
<rect x="1766.50" y="304.70" width="236.00" height="175.50" fill="none" stroke="#262626" stroke-width="3"/>
<rect x="1952.60" y="465.70" width="40.00" height="6.80" fill="#1c1c1c" stroke="none" stroke-width="0"/>
<text transform="translate(1887.00 298.00) scale(1 1.06)" font-size="27.4" text-anchor="middle" fill="#161616">Combo</text>
<text transform="translate(633.54 562.20) scale(1 1.06)" font-size="46.5" font-weight="bold" fill="#231f20">D</text>
<text transform="translate(961.00 569.00) scale(1 1.06)" font-size="33.5" text-anchor="middle" font-weight="bold" fill="#161616">H1792</text>
<line x1="775.50" y1="828.00" x2="787.30" y2="828.00" stroke="#070707" stroke-width="3.4" stroke-linecap="round"/>
<text transform="translate(772.00 837.40) scale(1 1.06)" font-size="26" text-anchor="end">0</text>
<line x1="775.50" y1="780.00" x2="787.30" y2="780.00" stroke="#070707" stroke-width="3.4" stroke-linecap="round"/>
<text transform="translate(772.00 789.40) scale(1 1.06)" font-size="26" text-anchor="end">200</text>
<line x1="775.50" y1="732.00" x2="787.30" y2="732.00" stroke="#070707" stroke-width="3.4" stroke-linecap="round"/>
<text transform="translate(772.00 741.40) scale(1 1.06)" font-size="26" text-anchor="end">400</text>
<line x1="775.50" y1="684.00" x2="787.30" y2="684.00" stroke="#070707" stroke-width="3.4" stroke-linecap="round"/>
<text transform="translate(772.00 693.40) scale(1 1.06)" font-size="26" text-anchor="end">600</text>
<line x1="775.50" y1="636.00" x2="787.30" y2="636.00" stroke="#070707" stroke-width="3.4" stroke-linecap="round"/>
<text transform="translate(772.00 645.40) scale(1 1.06)" font-size="26" text-anchor="end">800</text>
<line x1="775.50" y1="588.00" x2="787.30" y2="588.00" stroke="#070707" stroke-width="3.4" stroke-linecap="round"/>
<text transform="translate(772.00 597.40) scale(1 1.06)" font-size="26" text-anchor="end">1000</text>
<line x1="775.50" y1="848.80" x2="787.30" y2="848.80" stroke="#070707" stroke-width="3.4" stroke-linecap="round"/>
<text transform="translate(772.00 858.20) scale(1 1.06)" font-size="26" text-anchor="end">0</text>
<line x1="775.50" y1="888.42" x2="787.30" y2="888.42" stroke="#070707" stroke-width="3.4" stroke-linecap="round"/>
<text transform="translate(772.00 897.82) scale(1 1.06)" font-size="26" text-anchor="end">-50</text>
<line x1="775.50" y1="928.04" x2="787.30" y2="928.04" stroke="#070707" stroke-width="3.4" stroke-linecap="round"/>
<text transform="translate(772.00 937.44) scale(1 1.06)" font-size="26" text-anchor="end">-100</text>
<line x1="787.30" y1="928.50" x2="787.30" y2="938.40" stroke="#070707" stroke-width="3.4" stroke-linecap="round"/>
<text transform="translate(787.30 968.00) scale(1 1.06)" font-size="26" text-anchor="middle">0</text>
<line x1="856.34" y1="928.50" x2="856.34" y2="938.40" stroke="#070707" stroke-width="3.4" stroke-linecap="round"/>
<text transform="translate(856.34 968.00) scale(1 1.06)" font-size="26" text-anchor="middle">5</text>
<line x1="925.38" y1="928.50" x2="925.38" y2="938.40" stroke="#070707" stroke-width="3.4" stroke-linecap="round"/>
<text transform="translate(925.38 968.00) scale(1 1.06)" font-size="26" text-anchor="middle">10</text>
<line x1="994.42" y1="928.50" x2="994.42" y2="938.40" stroke="#070707" stroke-width="3.4" stroke-linecap="round"/>
<text transform="translate(994.42 968.00) scale(1 1.06)" font-size="26" text-anchor="middle">15</text>
<line x1="1063.46" y1="928.50" x2="1063.46" y2="938.40" stroke="#070707" stroke-width="3.4" stroke-linecap="round"/>
<text transform="translate(1063.46 968.00) scale(1 1.06)" font-size="26" text-anchor="middle">20</text>
<line x1="1132.50" y1="928.50" x2="1132.50" y2="938.40" stroke="#070707" stroke-width="3.4" stroke-linecap="round"/>
<text transform="translate(1132.50 968.00) scale(1 1.06)" font-size="26" text-anchor="middle">25</text>
<text transform="translate(962.60 1011.00) scale(1 1.06)" font-size="27" text-anchor="middle">Time (days)</text>
<text transform="translate(705.50 757.00) rotate(-90)" font-size="27.2" text-anchor="middle">Tumor volume change (%)</text>
<line x1="828.72" y1="866.00" x2="828.72" y2="878.70" stroke="#a6a8ab" stroke-width="2.2" stroke-linecap="butt"/>
<line x1="823.22" y1="866.00" x2="834.22" y2="866.00" stroke="#a6a8ab" stroke-width="2.2" stroke-linecap="butt"/>
<line x1="823.22" y1="878.70" x2="834.22" y2="878.70" stroke="#a6a8ab" stroke-width="2.2" stroke-linecap="butt"/>
<line x1="883.96" y1="840.00" x2="883.96" y2="861.80" stroke="#a6a8ab" stroke-width="2.2" stroke-linecap="butt"/>
<line x1="878.46" y1="840.00" x2="889.46" y2="840.00" stroke="#a6a8ab" stroke-width="2.2" stroke-linecap="butt"/>
<line x1="878.46" y1="861.80" x2="889.46" y2="861.80" stroke="#a6a8ab" stroke-width="2.2" stroke-linecap="butt"/>
<polyline points="828.72,872.20 883.96,851.40 889.96,848.80" fill="none" stroke="#a6a8ab" stroke-width="3.2" stroke-linejoin="round"/>
<circle cx="828.72" cy="872.20" r="5.60" fill="#a6a8ab" stroke="none" stroke-width="0"/>
<line x1="828.72" y1="863.00" x2="828.72" y2="880.00" stroke="#a61e27" stroke-width="2.2" stroke-linecap="butt"/>
<line x1="823.22" y1="863.00" x2="834.22" y2="863.00" stroke="#a61e27" stroke-width="2.2" stroke-linecap="butt"/>
<line x1="823.22" y1="880.00" x2="834.22" y2="880.00" stroke="#a61e27" stroke-width="2.2" stroke-linecap="butt"/>
<line x1="883.96" y1="850.00" x2="883.96" y2="887.00" stroke="#a61e27" stroke-width="2.2" stroke-linecap="butt"/>
<line x1="878.46" y1="850.00" x2="889.46" y2="850.00" stroke="#a61e27" stroke-width="2.2" stroke-linecap="butt"/>
<line x1="878.46" y1="887.00" x2="889.46" y2="887.00" stroke="#a61e27" stroke-width="2.2" stroke-linecap="butt"/>
<line x1="925.38" y1="849.50" x2="925.38" y2="865.70" stroke="#a61e27" stroke-width="2.2" stroke-linecap="butt"/>
<line x1="919.88" y1="849.50" x2="930.88" y2="849.50" stroke="#a61e27" stroke-width="2.2" stroke-linecap="butt"/>
<line x1="919.88" y1="865.70" x2="930.88" y2="865.70" stroke="#a61e27" stroke-width="2.2" stroke-linecap="butt"/>
<polyline points="787.30,848.80 828.72,871.40 883.96,868.80 925.38,855.80 935.80,848.80" fill="none" stroke="#a61e27" stroke-width="3.2" stroke-linejoin="round"/>
<circle cx="828.72" cy="871.40" r="5.60" fill="#a61e27" stroke="none" stroke-width="0"/>
<circle cx="883.96" cy="868.80" r="5.60" fill="#a61e27" stroke="none" stroke-width="0"/>
<circle cx="925.38" cy="855.80" r="5.60" fill="#a61e27" stroke="none" stroke-width="0"/>
<circle cx="787.30" cy="848.80" r="3.50" fill="#a61e27" stroke="none" stroke-width="0"/>
<line x1="878.46" y1="824.70" x2="889.46" y2="824.70" stroke="#a6a8ab" stroke-width="2.2" stroke-linecap="butt"/>
<line x1="883.96" y1="824.70" x2="883.96" y2="828.00" stroke="#a6a8ab" stroke-width="2.2" stroke-linecap="butt"/>
<line x1="980.61" y1="752.00" x2="980.61" y2="780.50" stroke="#a6a8ab" stroke-width="2.2" stroke-linecap="butt"/>
<line x1="975.11" y1="752.00" x2="986.11" y2="752.00" stroke="#a6a8ab" stroke-width="2.2" stroke-linecap="butt"/>
<line x1="975.11" y1="780.50" x2="986.11" y2="780.50" stroke="#a6a8ab" stroke-width="2.2" stroke-linecap="butt"/>
<line x1="1022.04" y1="724.00" x2="1022.04" y2="756.00" stroke="#a6a8ab" stroke-width="2.2" stroke-linecap="butt"/>
<line x1="1016.54" y1="724.00" x2="1027.54" y2="724.00" stroke="#a6a8ab" stroke-width="2.2" stroke-linecap="butt"/>
<line x1="1016.54" y1="756.00" x2="1027.54" y2="756.00" stroke="#a6a8ab" stroke-width="2.2" stroke-linecap="butt"/>
<polyline points="907.30,828.00 925.38,811.20 980.61,766.50 1022.04,737.90" fill="none" stroke="#a6a8ab" stroke-width="3.2" stroke-linejoin="round"/>
<circle cx="925.38" cy="811.20" r="5.60" fill="#a6a8ab" stroke="none" stroke-width="0"/>
<circle cx="980.61" cy="766.50" r="5.60" fill="#a6a8ab" stroke="none" stroke-width="0"/>
<circle cx="1022.04" cy="737.90" r="5.60" fill="#a6a8ab" stroke="none" stroke-width="0"/>
<line x1="883.96" y1="783.90" x2="883.96" y2="800.30" stroke="#1c1c1c" stroke-width="2.2" stroke-linecap="butt"/>
<line x1="878.46" y1="783.90" x2="889.46" y2="783.90" stroke="#1c1c1c" stroke-width="2.2" stroke-linecap="butt"/>
<line x1="878.46" y1="800.30" x2="889.46" y2="800.30" stroke="#1c1c1c" stroke-width="2.2" stroke-linecap="butt"/>
<line x1="925.38" y1="759.00" x2="925.38" y2="775.30" stroke="#1c1c1c" stroke-width="2.2" stroke-linecap="butt"/>
<line x1="919.88" y1="759.00" x2="930.88" y2="759.00" stroke="#1c1c1c" stroke-width="2.2" stroke-linecap="butt"/>
<line x1="919.88" y1="775.30" x2="930.88" y2="775.30" stroke="#1c1c1c" stroke-width="2.2" stroke-linecap="butt"/>
<line x1="980.61" y1="694.80" x2="980.61" y2="737.90" stroke="#1c1c1c" stroke-width="2.2" stroke-linecap="butt"/>
<line x1="975.11" y1="694.80" x2="986.11" y2="694.80" stroke="#1c1c1c" stroke-width="2.2" stroke-linecap="butt"/>
<line x1="975.11" y1="737.90" x2="986.11" y2="737.90" stroke="#1c1c1c" stroke-width="2.2" stroke-linecap="butt"/>
<line x1="1022.04" y1="625.50" x2="1022.04" y2="681.30" stroke="#1c1c1c" stroke-width="2.2" stroke-linecap="butt"/>
<line x1="1016.54" y1="625.50" x2="1027.54" y2="625.50" stroke="#1c1c1c" stroke-width="2.2" stroke-linecap="butt"/>
<line x1="1016.54" y1="681.30" x2="1027.54" y2="681.30" stroke="#1c1c1c" stroke-width="2.2" stroke-linecap="butt"/>
<polyline points="811.00,828.00 828.72,817.70 883.96,791.70 925.38,766.50 980.61,716.40 1022.04,654.00" fill="none" stroke="#1c1c1c" stroke-width="3.2" stroke-linejoin="round"/>
<circle cx="828.72" cy="817.70" r="5.60" fill="#1c1c1c" stroke="none" stroke-width="0"/>
<circle cx="883.96" cy="791.70" r="5.60" fill="#1c1c1c" stroke="none" stroke-width="0"/>
<circle cx="925.38" cy="766.50" r="5.60" fill="#1c1c1c" stroke="none" stroke-width="0"/>
<circle cx="980.61" cy="716.40" r="5.60" fill="#1c1c1c" stroke="none" stroke-width="0"/>
<circle cx="1022.04" cy="654.00" r="5.60" fill="#1c1c1c" stroke="none" stroke-width="0"/>
<line x1="883.96" y1="771.40" x2="883.96" y2="782.60" stroke="#1d8a9b" stroke-width="2.2" stroke-linecap="butt"/>
<line x1="878.46" y1="771.40" x2="889.46" y2="771.40" stroke="#1d8a9b" stroke-width="2.2" stroke-linecap="butt"/>
<line x1="878.46" y1="782.60" x2="889.46" y2="782.60" stroke="#1d8a9b" stroke-width="2.2" stroke-linecap="butt"/>
<line x1="925.38" y1="744.20" x2="925.38" y2="773.50" stroke="#1d8a9b" stroke-width="2.2" stroke-linecap="butt"/>
<line x1="919.88" y1="744.20" x2="930.88" y2="744.20" stroke="#1d8a9b" stroke-width="2.2" stroke-linecap="butt"/>
<line x1="919.88" y1="773.50" x2="930.88" y2="773.50" stroke="#1d8a9b" stroke-width="2.2" stroke-linecap="butt"/>
<line x1="980.61" y1="672.20" x2="980.61" y2="745.00" stroke="#1d8a9b" stroke-width="2.2" stroke-linecap="butt"/>
<line x1="975.11" y1="672.20" x2="986.11" y2="672.20" stroke="#1d8a9b" stroke-width="2.2" stroke-linecap="butt"/>
<line x1="975.11" y1="745.00" x2="986.11" y2="745.00" stroke="#1d8a9b" stroke-width="2.2" stroke-linecap="butt"/>
<line x1="1022.04" y1="693.00" x2="1022.04" y2="747.50" stroke="#1d8a9b" stroke-width="2.2" stroke-linecap="butt"/>
<line x1="1016.54" y1="693.00" x2="1027.54" y2="693.00" stroke="#1d8a9b" stroke-width="2.2" stroke-linecap="butt"/>
<line x1="1016.54" y1="747.50" x2="1027.54" y2="747.50" stroke="#1d8a9b" stroke-width="2.2" stroke-linecap="butt"/>
<polyline points="808.00,828.00 828.72,808.60 883.96,777.40 925.38,759.20 980.61,708.60 1022.04,720.30" fill="none" stroke="#1d8a9b" stroke-width="3.2" stroke-linejoin="round"/>
<circle cx="828.72" cy="808.60" r="5.60" fill="#1d8a9b" stroke="none" stroke-width="0"/>
<circle cx="883.96" cy="777.40" r="5.60" fill="#1d8a9b" stroke="none" stroke-width="0"/>
<circle cx="925.38" cy="759.20" r="5.60" fill="#1d8a9b" stroke="none" stroke-width="0"/>
<circle cx="980.61" cy="708.60" r="5.60" fill="#1d8a9b" stroke="none" stroke-width="0"/>
<circle cx="1022.04" cy="720.30" r="5.60" fill="#1d8a9b" stroke="none" stroke-width="0"/>
<line x1="921.60" y1="828.00" x2="929.40" y2="828.00" stroke="#a61e27" stroke-width="3" stroke-linecap="butt"/>
<polyline points="969.60,828.00 980.61,820.30 1022.04,812.00" fill="none" stroke="#a61e27" stroke-width="3.2" stroke-linejoin="round"/>
<circle cx="980.61" cy="820.30" r="5.60" fill="#a61e27" stroke="none" stroke-width="0"/>
<circle cx="1022.04" cy="812.00" r="5.60" fill="#a61e27" stroke="none" stroke-width="0"/>
<line x1="787.3" y1="828.0" x2="1132.5" y2="828.0" stroke="#1a1a1a" stroke-width="3" stroke-dasharray="6.5 4"/>
<line x1="787.3" y1="848.8" x2="1132.5" y2="848.8" stroke="#1a1a1a" stroke-width="3" stroke-dasharray="6.5 4"/>
<rect x="787.30" y="587.30" width="345.20" height="341.20" fill="none" stroke="#070707" stroke-width="3.4"/>
<line x1="787.30" y1="850.50" x2="787.30" y2="926.50" stroke="#a6a8ab" stroke-width="3" stroke-linecap="butt"/>
<line x1="1033.20" y1="719.70" x2="1033.20" y2="815.00" stroke="#070707" stroke-width="3" stroke-linecap="butt"/>
<line x1="1043.60" y1="739.00" x2="1043.60" y2="815.00" stroke="#070707" stroke-width="3" stroke-linecap="butt"/>
<text transform="translate(1039.20 732.00) scale(1 1.06)" font-size="20" fill="#111">p=0.002</text>
<text transform="translate(1050.00 789.10) scale(1 1.06)" font-size="20" fill="#111">p=0.004</text>
<line x1="802.00" y1="606.00" x2="841.00" y2="606.00" stroke="#1c1c1c" stroke-width="3.2" stroke-linecap="butt"/>
<circle cx="821.60" cy="606.00" r="5.60" fill="#1c1c1c" stroke="none" stroke-width="0"/>
<text transform="translate(861.80 611.20) scale(1 1.06)" font-size="20.5" letter-spacing="1">Ctrl</text>
<line x1="802.00" y1="625.00" x2="841.00" y2="625.00" stroke="#a6a8ab" stroke-width="3.2" stroke-linecap="butt"/>
<circle cx="821.60" cy="625.00" r="5.60" fill="#a6a8ab" stroke="none" stroke-width="0"/>
<text transform="translate(861.80 632.70) scale(1 1.06)" font-size="20.5" letter-spacing="1">Tram</text>
<line x1="802.00" y1="643.60" x2="841.00" y2="643.60" stroke="#1d8a9b" stroke-width="3.2" stroke-linecap="butt"/>
<circle cx="821.60" cy="643.60" r="5.60" fill="#1d8a9b" stroke="none" stroke-width="0"/>
<text transform="translate(861.80 651.40) scale(1 1.06)" font-size="20.5" letter-spacing="1">Lest</text>
<line x1="802.00" y1="663.90" x2="841.00" y2="663.90" stroke="#a61e27" stroke-width="3.2" stroke-linecap="butt"/>
<circle cx="821.60" cy="663.90" r="5.60" fill="#a61e27" stroke="none" stroke-width="0"/>
<text transform="translate(861.80 672.20) scale(1 1.06)" font-size="20.5" letter-spacing="1">Combo</text>
<text transform="translate(1250.34 553.40) scale(1 1.06)" font-size="46.5" font-weight="bold" fill="#231f20">E</text>
<text transform="translate(1643.90 570.30) scale(1 1.06)" font-size="33.5" text-anchor="middle" font-weight="bold" fill="#161616">H1792</text>
<line x1="1372.50" y1="929.30" x2="1383.30" y2="929.30" stroke="#070707" stroke-width="3.4" stroke-linecap="round"/>
<text transform="translate(1367.90 938.70) scale(1 1.06)" font-size="26.3" text-anchor="end">0</text>
<line x1="1372.50" y1="815.30" x2="1383.30" y2="815.30" stroke="#070707" stroke-width="3.4" stroke-linecap="round"/>
<text transform="translate(1367.90 824.70) scale(1 1.06)" font-size="26.3" text-anchor="end">500</text>
<line x1="1372.50" y1="701.30" x2="1383.30" y2="701.30" stroke="#070707" stroke-width="3.4" stroke-linecap="round"/>
<text transform="translate(1367.90 710.70) scale(1 1.06)" font-size="26.3" text-anchor="end">1000</text>
<line x1="1372.50" y1="587.30" x2="1383.30" y2="587.30" stroke="#070707" stroke-width="3.4" stroke-linecap="round"/>
<text transform="translate(1367.90 596.70) scale(1 1.06)" font-size="26.3" text-anchor="end">1500</text>
<text transform="translate(1302.00 746.60) rotate(-90)" font-size="27.2" text-anchor="middle">Tumor volume change (%)</text>
<rect x="1387.20" y="668.30" width="8.20" height="261.00" fill="#231f20" stroke="#111111" stroke-width="1"/>
<line x1="1385.90" y1="668.50" x2="1396.70" y2="668.50" stroke="#111111" stroke-width="1.9" stroke-linecap="butt"/>
<rect x="1403.27" y="715.10" width="8.20" height="214.20" fill="#231f20" stroke="#111111" stroke-width="1"/>
<line x1="1401.97" y1="715.30" x2="1412.77" y2="715.30" stroke="#111111" stroke-width="1.9" stroke-linecap="butt"/>
<rect x="1419.34" y="716.80" width="8.20" height="212.50" fill="#231f20" stroke="#111111" stroke-width="1"/>
<line x1="1418.04" y1="717.00" x2="1428.84" y2="717.00" stroke="#111111" stroke-width="1.9" stroke-linecap="butt"/>
<rect x="1435.41" y="719.20" width="8.20" height="210.10" fill="#231f20" stroke="#111111" stroke-width="1"/>
<line x1="1434.11" y1="719.40" x2="1444.91" y2="719.40" stroke="#111111" stroke-width="1.9" stroke-linecap="butt"/>
<rect x="1451.48" y="759.30" width="8.20" height="170.00" fill="#231f20" stroke="#111111" stroke-width="1"/>
<line x1="1450.18" y1="759.50" x2="1460.98" y2="759.50" stroke="#111111" stroke-width="1.9" stroke-linecap="butt"/>
<rect x="1467.55" y="822.80" width="8.20" height="106.50" fill="#231f20" stroke="#111111" stroke-width="1"/>
<line x1="1466.25" y1="823.00" x2="1477.05" y2="823.00" stroke="#111111" stroke-width="1.9" stroke-linecap="butt"/>
<rect x="1483.62" y="849.30" width="8.20" height="80.00" fill="#231f20" stroke="#111111" stroke-width="1"/>
<line x1="1482.32" y1="849.50" x2="1493.12" y2="849.50" stroke="#111111" stroke-width="1.9" stroke-linecap="butt"/>
<rect x="1499.69" y="881.20" width="8.20" height="48.10" fill="#231f20" stroke="#111111" stroke-width="1"/>
<line x1="1498.39" y1="881.40" x2="1509.19" y2="881.40" stroke="#111111" stroke-width="1.9" stroke-linecap="butt"/>
<rect x="1515.76" y="753.90" width="8.20" height="175.40" fill="#939598" stroke="#4a4b4d" stroke-width="1"/>
<line x1="1514.46" y1="754.10" x2="1525.26" y2="754.10" stroke="#4a4b4d" stroke-width="1.9" stroke-linecap="butt"/>
<rect x="1531.83" y="810.20" width="8.20" height="119.10" fill="#939598" stroke="#4a4b4d" stroke-width="1"/>
<line x1="1530.53" y1="810.40" x2="1541.33" y2="810.40" stroke="#4a4b4d" stroke-width="1.9" stroke-linecap="butt"/>
<rect x="1547.90" y="834.70" width="8.20" height="94.60" fill="#939598" stroke="#4a4b4d" stroke-width="1"/>
<line x1="1546.60" y1="834.90" x2="1557.40" y2="834.90" stroke="#4a4b4d" stroke-width="1.9" stroke-linecap="butt"/>
<rect x="1563.97" y="854.40" width="8.20" height="74.90" fill="#939598" stroke="#4a4b4d" stroke-width="1"/>
<line x1="1562.67" y1="854.60" x2="1573.47" y2="854.60" stroke="#4a4b4d" stroke-width="1.9" stroke-linecap="butt"/>
<rect x="1580.04" y="858.50" width="8.20" height="70.80" fill="#939598" stroke="#4a4b4d" stroke-width="1"/>
<line x1="1578.74" y1="858.70" x2="1589.54" y2="858.70" stroke="#4a4b4d" stroke-width="1.9" stroke-linecap="butt"/>
<rect x="1596.11" y="872.10" width="8.20" height="57.20" fill="#939598" stroke="#4a4b4d" stroke-width="1"/>
<line x1="1594.81" y1="872.30" x2="1605.61" y2="872.30" stroke="#4a4b4d" stroke-width="1.9" stroke-linecap="butt"/>
<rect x="1612.18" y="877.20" width="8.20" height="52.10" fill="#939598" stroke="#4a4b4d" stroke-width="1"/>
<line x1="1610.88" y1="877.40" x2="1621.68" y2="877.40" stroke="#4a4b4d" stroke-width="1.9" stroke-linecap="butt"/>
<rect x="1628.25" y="911.10" width="8.20" height="18.20" fill="#939598" stroke="#4a4b4d" stroke-width="1"/>
<line x1="1626.95" y1="911.30" x2="1637.75" y2="911.30" stroke="#4a4b4d" stroke-width="1.9" stroke-linecap="butt"/>
<rect x="1644.32" y="672.70" width="8.20" height="256.60" fill="#1b7f93" stroke="#133f48" stroke-width="1"/>
<line x1="1643.02" y1="672.90" x2="1653.82" y2="672.90" stroke="#133f48" stroke-width="1.9" stroke-linecap="butt"/>
<rect x="1660.39" y="779.70" width="8.20" height="149.60" fill="#1b7f93" stroke="#133f48" stroke-width="1"/>
<line x1="1659.09" y1="779.90" x2="1669.89" y2="779.90" stroke="#133f48" stroke-width="1.9" stroke-linecap="butt"/>
<rect x="1676.46" y="820.10" width="8.20" height="109.20" fill="#1b7f93" stroke="#133f48" stroke-width="1"/>
<line x1="1675.16" y1="820.30" x2="1685.96" y2="820.30" stroke="#133f48" stroke-width="1.9" stroke-linecap="butt"/>
<rect x="1692.53" y="845.90" width="8.20" height="83.40" fill="#1b7f93" stroke="#133f48" stroke-width="1"/>
<line x1="1691.23" y1="846.10" x2="1702.03" y2="846.10" stroke="#133f48" stroke-width="1.9" stroke-linecap="butt"/>
<rect x="1708.60" y="869.70" width="8.20" height="59.60" fill="#1b7f93" stroke="#133f48" stroke-width="1"/>
<line x1="1707.30" y1="869.90" x2="1718.10" y2="869.90" stroke="#133f48" stroke-width="1.9" stroke-linecap="butt"/>
<rect x="1724.67" y="869.70" width="8.20" height="59.60" fill="#1b7f93" stroke="#133f48" stroke-width="1"/>
<line x1="1723.37" y1="869.90" x2="1734.17" y2="869.90" stroke="#133f48" stroke-width="1.9" stroke-linecap="butt"/>
<rect x="1740.74" y="885.70" width="8.20" height="43.60" fill="#1b7f93" stroke="#133f48" stroke-width="1"/>
<line x1="1739.44" y1="885.90" x2="1750.24" y2="885.90" stroke="#133f48" stroke-width="1.9" stroke-linecap="butt"/>
<rect x="1756.81" y="890.70" width="8.20" height="38.60" fill="#1b7f93" stroke="#133f48" stroke-width="1"/>
<line x1="1755.51" y1="890.90" x2="1766.31" y2="890.90" stroke="#133f48" stroke-width="1.9" stroke-linecap="butt"/>
<rect x="1772.88" y="894.80" width="8.20" height="34.50" fill="#9e1c23" stroke="#3a1214" stroke-width="1"/>
<line x1="1771.58" y1="895.00" x2="1782.38" y2="895.00" stroke="#3a1214" stroke-width="1.9" stroke-linecap="butt"/>
<rect x="1788.95" y="910.40" width="8.20" height="18.90" fill="#9e1c23" stroke="#3a1214" stroke-width="1"/>
<line x1="1787.65" y1="910.60" x2="1798.45" y2="910.60" stroke="#3a1214" stroke-width="1.9" stroke-linecap="butt"/>
<rect x="1805.02" y="913.80" width="8.20" height="15.50" fill="#9e1c23" stroke="#3a1214" stroke-width="1"/>
<line x1="1803.72" y1="914.00" x2="1814.52" y2="914.00" stroke="#3a1214" stroke-width="1.9" stroke-linecap="butt"/>
<rect x="1821.09" y="915.50" width="8.20" height="13.80" fill="#9e1c23" stroke="#3a1214" stroke-width="1"/>
<line x1="1819.79" y1="915.70" x2="1830.59" y2="915.70" stroke="#3a1214" stroke-width="1.9" stroke-linecap="butt"/>
<rect x="1837.16" y="918.60" width="8.20" height="10.70" fill="#9e1c23" stroke="#3a1214" stroke-width="1"/>
<line x1="1835.86" y1="918.80" x2="1846.66" y2="918.80" stroke="#3a1214" stroke-width="1.9" stroke-linecap="butt"/>
<rect x="1853.23" y="918.90" width="8.20" height="10.40" fill="#9e1c23" stroke="#3a1214" stroke-width="1"/>
<line x1="1851.93" y1="919.10" x2="1862.73" y2="919.10" stroke="#3a1214" stroke-width="1.9" stroke-linecap="butt"/>
<rect x="1869.30" y="928.10" width="8.20" height="1.20" fill="#9e1c23" stroke="#3a1214" stroke-width="1"/>
<line x1="1868.00" y1="928.30" x2="1878.80" y2="928.30" stroke="#3a1214" stroke-width="1.9" stroke-linecap="butt"/>
<rect x="1383.30" y="587.30" width="517.40" height="342.00" fill="none" stroke="#070707" stroke-width="3.4"/>
<rect x="1711.10" y="596.40" width="40.10" height="23.80" fill="#231f20" stroke="none" stroke-width="0"/>
<text transform="translate(1758.70 615.10) scale(1 1.06)" font-size="21.3">Ctrl (n=8)</text>
<rect x="1711.10" y="626.30" width="40.10" height="24.50" fill="#939598" stroke="none" stroke-width="0"/>
<text transform="translate(1758.70 645.70) scale(1 1.06)" font-size="21.3">Tram (n=8)</text>
<rect x="1711.10" y="655.20" width="40.10" height="24.40" fill="#1b7f93" stroke="none" stroke-width="0"/>
<text transform="translate(1758.70 676.20) scale(1 1.06)" font-size="21.3">Lest (n=8)</text>
<rect x="1711.10" y="685.40" width="40.10" height="24.10" fill="#9e1c23" stroke="none" stroke-width="0"/>
<text transform="translate(1758.70 704.10) scale(1 1.06)" font-size="21.3">Combo (n=8)</text>
<defs><filter id="band" x="-30%" y="-80%" width="160%" height="260%"><feGaussianBlur stdDeviation="1.9 1.6"/></filter><filter id="strip" x="-20%" y="-5%" width="140%" height="110%"><feGaussianBlur stdDeviation="2.2 0.5"/></filter><filter id="band2" x="-30%" y="-80%" width="160%" height="260%"><feGaussianBlur stdDeviation="2.4 2.2"/></filter></defs>
<text transform="translate(244.34 1078.00) scale(1 1.06)" font-size="46.5" font-weight="bold" fill="#231f20">F</text>
<text transform="translate(523.60 1079.60) scale(1 1.06)" font-size="33.7" font-weight="bold">Mut <tspan font-style="italic">KRAS</tspan></text>
<text transform="translate(462.80 1127.50) scale(1 1.06)" font-size="33.5" text-anchor="middle" font-weight="bold" fill="#111">H1792</text>
<text transform="translate(604.60 1127.50) scale(1 1.06)" font-size="33.5" text-anchor="middle" font-weight="bold" fill="#111">H2009</text>
<text transform="translate(753.40 1127.50) scale(1 1.06)" font-size="33.5" text-anchor="middle" font-weight="bold" fill="#111">A549</text>
<line x1="406.60" y1="1139.20" x2="522.60" y2="1139.20" stroke="#222" stroke-width="3" stroke-linecap="butt"/>
<line x1="546.70" y1="1139.20" x2="661.90" y2="1139.20" stroke="#222" stroke-width="3" stroke-linecap="butt"/>
<line x1="693.80" y1="1139.20" x2="809.80" y2="1139.20" stroke="#222" stroke-width="3" stroke-linecap="butt"/>
<text transform="translate(417.20 1239.20) rotate(-90)" font-size="27.5">Ctrl</text>
<text transform="translate(456.20 1239.20) rotate(-90)" font-size="27.5">Tram</text>
<text transform="translate(487.10 1239.20) rotate(-90)" font-size="27.5">Lest</text>
<text transform="translate(525.40 1239.20) rotate(-90)" font-size="27.5">Combo</text>
<text transform="translate(564.40 1239.20) rotate(-90)" font-size="27.5">Ctrl</text>
<text transform="translate(601.60 1239.20) rotate(-90)" font-size="27.5">Tram</text>
<text transform="translate(635.30 1239.20) rotate(-90)" font-size="27.5">Lest</text>
<text transform="translate(667.20 1239.20) rotate(-90)" font-size="27.5">Combo</text>
<text transform="translate(708.00 1239.20) rotate(-90)" font-size="27.5">Ctrl</text>
<text transform="translate(743.40 1239.20) rotate(-90)" font-size="27.5">Tram</text>
<text transform="translate(782.50 1239.20) rotate(-90)" font-size="27.5">Lest</text>
<text transform="translate(817.90 1239.20) rotate(-90)" font-size="27.5">Combo</text>
<clipPath id="bb1"><rect x="381.80" y="1244.50" width="457.40" height="72.70"/></clipPath>
<g clip-path="url(#bb1)">
<rect x="381.80" y="1244.50" width="457.40" height="72.70" fill="#dfe0e2" stroke="none" stroke-width="0"/>
<rect x="392.90" y="1247.50" width="33.00" height="66.70" fill="#d2d4d6" stroke="none" stroke-width="0" filter="url(#strip)"/>
<rect x="433.30" y="1247.50" width="30.00" height="66.70" fill="#d2d4d6" stroke="none" stroke-width="0" filter="url(#strip)"/>
<rect x="470.90" y="1247.50" width="26.00" height="66.70" fill="#d2d4d6" stroke="none" stroke-width="0" filter="url(#strip)"/>
<rect x="503.90" y="1247.50" width="25.00" height="66.70" fill="#d2d4d6" stroke="none" stroke-width="0" filter="url(#strip)"/>
<rect x="537.40" y="1247.50" width="30.00" height="66.70" fill="#d2d4d6" stroke="none" stroke-width="0" filter="url(#strip)"/>
<rect x="575.20" y="1247.50" width="28.00" height="66.70" fill="#d2d4d6" stroke="none" stroke-width="0" filter="url(#strip)"/>
<rect x="611.80" y="1247.50" width="28.00" height="66.70" fill="#d2d4d6" stroke="none" stroke-width="0" filter="url(#strip)"/>
<rect x="649.00" y="1247.50" width="28.00" height="66.70" fill="#d2d4d6" stroke="none" stroke-width="0" filter="url(#strip)"/>
<rect x="685.30" y="1247.50" width="26.00" height="66.70" fill="#d2d4d6" stroke="none" stroke-width="0" filter="url(#strip)"/>
<rect x="719.20" y="1247.50" width="28.00" height="66.70" fill="#d2d4d6" stroke="none" stroke-width="0" filter="url(#strip)"/>
<rect x="756.05" y="1247.50" width="29.50" height="66.70" fill="#d2d4d6" stroke="none" stroke-width="0" filter="url(#strip)"/>
<rect x="795.50" y="1247.50" width="31.00" height="66.70" fill="#d2d4d6" stroke="none" stroke-width="0" filter="url(#strip)"/>
<rect x="392.90" y="1264.60" width="33.00" height="10.80" rx="5.40" fill="#000" fill-opacity="1.00" filter="url(#band)"/>
<rect x="433.30" y="1265.20" width="30.00" height="9.00" rx="4.50" fill="#000" fill-opacity="0.95" filter="url(#band)"/>
<rect x="433.30" y="1290.92" width="30.00" height="8.55" rx="4.28" fill="#000" fill-opacity="0.55" filter="url(#band)"/>
<rect x="470.90" y="1266.32" width="26.00" height="8.55" rx="4.28" fill="#000" fill-opacity="0.90" filter="url(#band)"/>
<rect x="470.90" y="1293.85" width="26.00" height="6.30" rx="3.15" fill="#000" fill-opacity="0.10" filter="url(#band)"/>
<rect x="503.90" y="1267.80" width="25.00" height="5.40" rx="2.70" fill="#000" fill-opacity="0.30" filter="url(#band)"/>
<rect x="503.90" y="1292.35" width="25.00" height="9.90" rx="4.95" fill="#000" fill-opacity="1.00" filter="url(#band)"/>
<rect x="537.40" y="1270.38" width="30.00" height="7.65" rx="3.83" fill="#000" fill-opacity="0.42" filter="url(#band)"/>
<rect x="575.20" y="1272.70" width="28.00" height="9.00" rx="4.50" fill="#000" fill-opacity="0.52" filter="url(#band)"/>
<rect x="575.20" y="1298.78" width="28.00" height="5.85" rx="2.93" fill="#000" fill-opacity="0.16" filter="url(#band)"/>
<rect x="611.80" y="1272.85" width="28.00" height="8.10" rx="4.05" fill="#000" fill-opacity="0.82" filter="url(#band)"/>
<rect x="611.80" y="1299.30" width="28.00" height="5.40" rx="2.70" fill="#000" fill-opacity="0.12" filter="url(#band)"/>
<rect x="649.00" y="1275.10" width="28.00" height="7.20" rx="3.60" fill="#000" fill-opacity="0.55" filter="url(#band)"/>
<rect x="649.00" y="1298.45" width="28.00" height="8.10" rx="4.05" fill="#000" fill-opacity="0.50" filter="url(#band)"/>
<rect x="685.30" y="1276.00" width="26.00" height="9.00" rx="4.50" fill="#000" fill-opacity="0.72" filter="url(#band)"/>
<rect x="719.20" y="1275.10" width="28.00" height="7.20" rx="3.60" fill="#000" fill-opacity="0.45" filter="url(#band)"/>
<rect x="719.20" y="1300.35" width="28.00" height="6.30" rx="3.15" fill="#000" fill-opacity="0.30" filter="url(#band)"/>
<rect x="756.05" y="1272.85" width="29.50" height="8.10" rx="4.05" fill="#000" fill-opacity="0.92" filter="url(#band)"/>
<rect x="756.05" y="1300.30" width="29.50" height="5.40" rx="2.70" fill="#000" fill-opacity="0.12" filter="url(#band)"/>
<rect x="795.50" y="1270.83" width="31.00" height="4.95" rx="2.48" fill="#000" fill-opacity="0.45" filter="url(#band)"/>
<rect x="795.50" y="1295.72" width="31.00" height="8.55" rx="4.28" fill="#000" fill-opacity="0.92" filter="url(#band)"/>
<rect x="758.80" y="1253.00" width="24.00" height="5.00" rx="2.50" fill="#000" fill-opacity="0.15" filter="url(#band)"/>
<rect x="798.00" y="1253.00" width="26.00" height="5.00" rx="2.50" fill="#000" fill-opacity="0.10" filter="url(#band)"/>
</g>
<rect x="383.40" y="1246.10" width="454.20" height="69.50" fill="none" stroke="#222" stroke-width="3.2"/>
<clipPath id="bb2"><rect x="381.80" y="1325.00" width="457.40" height="61.50"/></clipPath>
<g clip-path="url(#bb2)">
<rect x="381.80" y="1325.00" width="457.40" height="61.50" fill="#e4e5e7" stroke="none" stroke-width="0"/>
<rect x="388.70" y="1349.69" width="42.60" height="8.62" rx="4.31" fill="#000" fill-opacity="0.88" filter="url(#band)"/>
<rect x="433.10" y="1350.69" width="36.40" height="8.62" rx="4.31" fill="#000" fill-opacity="0.85" filter="url(#band)"/>
<rect x="470.85" y="1353.26" width="34.70" height="7.47" rx="3.74" fill="#000" fill-opacity="0.80" filter="url(#band)"/>
<rect x="507.55" y="1350.83" width="36.50" height="10.35" rx="5.17" fill="#000" fill-opacity="0.92" filter="url(#band)"/>
<rect x="545.25" y="1353.97" width="32.90" height="8.05" rx="4.02" fill="#000" fill-opacity="0.80" filter="url(#band)"/>
<rect x="577.00" y="1352.62" width="36.00" height="10.35" rx="5.17" fill="#000" fill-opacity="1.00" filter="url(#band)"/>
<rect x="614.70" y="1352.97" width="33.00" height="8.05" rx="4.02" fill="#000" fill-opacity="0.97" filter="url(#band)"/>
<rect x="648.90" y="1353.23" width="36.60" height="10.35" rx="5.17" fill="#000" fill-opacity="0.97" filter="url(#band)"/>
<rect x="686.50" y="1352.04" width="36.00" height="10.92" rx="5.46" fill="#000" fill-opacity="1.00" filter="url(#band)"/>
<rect x="720.80" y="1355.11" width="36.60" height="9.77" rx="4.89" fill="#000" fill-opacity="0.88" filter="url(#band)"/>
<rect x="758.05" y="1353.67" width="30.50" height="12.65" rx="6.32" fill="#000" fill-opacity="1.00" filter="url(#band)"/>
<rect x="792.70" y="1353.24" width="41.40" height="15.52" rx="7.76" fill="#000" fill-opacity="1.00" filter="url(#band)"/>
</g>
<rect x="383.40" y="1326.60" width="454.20" height="58.30" fill="none" stroke="#222" stroke-width="3.2"/>
<text transform="translate(299.50 1277.50) scale(1 1.06)" font-size="27.5">PARP</text>
<text transform="translate(269.70 1303.80) scale(1 1.06)" font-size="23.3">Cleaved</text>
<polygon points="359.40,1288.00 376.00,1295.20 359.40,1302.40 363.90,1295.20" fill="#1a1a1a"/>
<text transform="translate(277.00 1361.60) scale(1 1.06)" font-size="27.2">GAPDH</text>
<text transform="translate(872.00 1226.80) scale(1 1.06)" font-size="26.6">KDa</text>
<line x1="840.00" y1="1254.10" x2="868.30" y2="1254.10" stroke="#222" stroke-width="3" stroke-linecap="butt"/>
<text transform="translate(877.20 1264.00) scale(1 1.06)" font-size="26">150</text>
<line x1="840.00" y1="1284.30" x2="868.30" y2="1284.30" stroke="#222" stroke-width="3" stroke-linecap="butt"/>
<text transform="translate(877.20 1294.20) scale(1 1.06)" font-size="26">100</text>
<line x1="840.00" y1="1339.60" x2="868.30" y2="1339.60" stroke="#222" stroke-width="3" stroke-linecap="butt"/>
<text transform="translate(876.00 1347.40) scale(1 1.06)" font-size="26">37</text>
<text transform="translate(1037.52 1078.00) scale(1 1.06)" font-size="46.5" font-weight="bold" fill="#231f20">G</text>
<text transform="translate(1319.60 1079.60) scale(1 1.06)" font-size="33.7" font-weight="bold">Wt <tspan font-style="italic">KRAS</tspan></text>
<text transform="translate(1257.80 1127.50) scale(1 1.06)" font-size="33.5" text-anchor="middle" font-weight="bold" fill="#111">H1568</text>
<text transform="translate(1399.80 1127.50) scale(1 1.06)" font-size="33.5" text-anchor="middle" font-weight="bold" fill="#111">H1993</text>
<text transform="translate(1547.50 1127.50) scale(1 1.06)" font-size="33.5" text-anchor="middle" font-weight="bold" fill="#111">H1437</text>
<line x1="1200.10" y1="1138.20" x2="1316.10" y2="1138.20" stroke="#222" stroke-width="3" stroke-linecap="butt"/>
<line x1="1340.20" y1="1138.20" x2="1455.50" y2="1138.20" stroke="#222" stroke-width="3" stroke-linecap="butt"/>
<line x1="1487.40" y1="1138.20" x2="1605.80" y2="1138.20" stroke="#222" stroke-width="3" stroke-linecap="butt"/>
<text transform="translate(1210.80 1233.90) rotate(-90)" font-size="27.5">Ctrl</text>
<text transform="translate(1249.80 1233.90) rotate(-90)" font-size="27.5">Tram</text>
<text transform="translate(1279.90 1233.90) rotate(-90)" font-size="27.5">Lest</text>
<text transform="translate(1318.90 1233.90) rotate(-90)" font-size="27.5">Combo</text>
<text transform="translate(1357.90 1233.90) rotate(-90)" font-size="27.5">Ctrl</text>
<text transform="translate(1395.10 1233.90) rotate(-90)" font-size="27.5">Tram</text>
<text transform="translate(1428.80 1233.90) rotate(-90)" font-size="27.5">Lest</text>
<text transform="translate(1460.80 1233.90) rotate(-90)" font-size="27.5">Combo</text>
<text transform="translate(1503.30 1233.90) rotate(-90)" font-size="27.5">Ctrl</text>
<text transform="translate(1538.80 1233.90) rotate(-90)" font-size="27.5">Tram</text>
<text transform="translate(1574.20 1233.90) rotate(-90)" font-size="27.5">Lest</text>
<text transform="translate(1611.50 1233.90) rotate(-90)" font-size="27.5">Combo</text>
<clipPath id="bb3"><rect x="1182.40" y="1239.90" width="448.20" height="72.00"/></clipPath>
<g clip-path="url(#bb3)">
<rect x="1182.40" y="1239.90" width="448.20" height="72.00" fill="#dcdcde" stroke="none" stroke-width="0"/>
<rect x="1186.10" y="1248.50" width="33.00" height="14.00" rx="7.00" fill="#000" fill-opacity="1.00" filter="url(#band)"/>
<rect x="1188.57" y="1251.30" width="28.05" height="8.40" rx="4.20" fill="#000" fill-opacity="0.60" filter="url(#band)"/>
<rect x="1225.20" y="1249.75" width="31.00" height="13.50" rx="6.75" fill="#000" fill-opacity="1.00" filter="url(#band)"/>
<rect x="1227.53" y="1252.45" width="26.35" height="8.10" rx="4.05" fill="#000" fill-opacity="0.60" filter="url(#band)"/>
<rect x="1260.70" y="1249.00" width="31.00" height="14.00" rx="7.00" fill="#000" fill-opacity="1.00" filter="url(#band)"/>
<rect x="1263.03" y="1251.80" width="26.35" height="8.40" rx="4.20" fill="#000" fill-opacity="0.60" filter="url(#band)"/>
<rect x="1296.10" y="1249.50" width="31.00" height="14.00" rx="7.00" fill="#000" fill-opacity="1.00" filter="url(#band)"/>
<rect x="1298.42" y="1252.30" width="26.35" height="8.40" rx="4.20" fill="#000" fill-opacity="0.60" filter="url(#band)"/>
<rect x="1332.70" y="1248.75" width="33.00" height="15.50" rx="7.75" fill="#000" fill-opacity="1.00" filter="url(#band)"/>
<rect x="1335.17" y="1251.85" width="28.05" height="9.30" rx="4.65" fill="#000" fill-opacity="0.60" filter="url(#band)"/>
<rect x="1368.70" y="1249.25" width="33.00" height="15.50" rx="7.75" fill="#000" fill-opacity="1.00" filter="url(#band)"/>
<rect x="1371.17" y="1252.35" width="28.05" height="9.30" rx="4.65" fill="#000" fill-opacity="0.60" filter="url(#band)"/>
<rect x="1404.20" y="1248.75" width="33.00" height="15.50" rx="7.75" fill="#000" fill-opacity="1.00" filter="url(#band)"/>
<rect x="1406.67" y="1251.85" width="28.05" height="9.30" rx="4.65" fill="#000" fill-opacity="0.60" filter="url(#band)"/>
<rect x="1440.70" y="1249.00" width="32.00" height="14.00" rx="7.00" fill="#000" fill-opacity="1.00" filter="url(#band)"/>
<rect x="1443.10" y="1251.80" width="27.20" height="8.40" rx="4.20" fill="#000" fill-opacity="0.60" filter="url(#band)"/>
<rect x="1478.80" y="1250.00" width="31.00" height="12.00" rx="6.00" fill="#000" fill-opacity="1.00" filter="url(#band)"/>
<rect x="1481.12" y="1252.40" width="26.35" height="7.20" rx="3.60" fill="#000" fill-opacity="0.60" filter="url(#band)"/>
<rect x="1514.30" y="1249.75" width="29.00" height="11.50" rx="5.75" fill="#000" fill-opacity="1.00" filter="url(#band)"/>
<rect x="1516.47" y="1252.05" width="24.65" height="6.90" rx="3.45" fill="#000" fill-opacity="0.60" filter="url(#band)"/>
<rect x="1550.60" y="1248.50" width="32.00" height="12.00" rx="6.00" fill="#000" fill-opacity="1.00" filter="url(#band)"/>
<rect x="1553.00" y="1250.90" width="27.20" height="7.20" rx="3.60" fill="#000" fill-opacity="0.60" filter="url(#band)"/>
<rect x="1590.80" y="1247.00" width="32.00" height="11.00" rx="5.50" fill="#000" fill-opacity="1.00" filter="url(#band)"/>
<rect x="1593.20" y="1249.20" width="27.20" height="6.60" rx="3.30" fill="#000" fill-opacity="0.60" filter="url(#band)"/>
<rect x="1226.75" y="1299.50" width="27.90" height="5.00" rx="2.50" fill="#000" fill-opacity="0.09" filter="url(#band)"/>
<rect x="1297.65" y="1299.50" width="27.90" height="5.00" rx="2.50" fill="#000" fill-opacity="0.10" filter="url(#band)"/>
<rect x="1334.35" y="1299.50" width="29.70" height="5.00" rx="2.50" fill="#000" fill-opacity="0.10" filter="url(#band)"/>
<rect x="1370.35" y="1299.50" width="29.70" height="5.00" rx="2.50" fill="#000" fill-opacity="0.23" filter="url(#band)"/>
<rect x="1405.85" y="1299.50" width="29.70" height="5.00" rx="2.50" fill="#000" fill-opacity="0.25" filter="url(#band)"/>
<rect x="1442.30" y="1299.50" width="28.80" height="5.00" rx="2.50" fill="#000" fill-opacity="0.13" filter="url(#band)"/>
<rect x="1405.85" y="1286.00" width="29.70" height="5.00" rx="2.50" fill="#000" fill-opacity="0.10" filter="url(#band)"/>
<rect x="1442.30" y="1286.00" width="28.80" height="5.00" rx="2.50" fill="#000" fill-opacity="0.08" filter="url(#band)"/>
<rect x="1552.20" y="1286.00" width="28.80" height="5.00" rx="2.50" fill="#000" fill-opacity="0.10" filter="url(#band)"/>
<rect x="1592.40" y="1286.00" width="28.80" height="5.00" rx="2.50" fill="#000" fill-opacity="0.13" filter="url(#band)"/>
</g>
<rect x="1184.00" y="1241.50" width="445.00" height="68.80" fill="none" stroke="#222" stroke-width="3.2"/>
<clipPath id="bb4"><rect x="1182.40" y="1319.00" width="448.20" height="48.60"/></clipPath>
<g clip-path="url(#bb4)">
<rect x="1182.40" y="1319.00" width="448.20" height="48.60" fill="#e6e6e7" stroke="none" stroke-width="0"/>
<rect x="1183.10" y="1341.00" width="39.00" height="10.00" rx="5.00" fill="#000" fill-opacity="0.95" filter="url(#band)"/>
<rect x="1222.20" y="1341.00" width="37.00" height="10.00" rx="5.00" fill="#000" fill-opacity="0.95" filter="url(#band)"/>
<rect x="1257.70" y="1341.00" width="37.00" height="10.00" rx="5.00" fill="#000" fill-opacity="0.95" filter="url(#band)"/>
<rect x="1293.10" y="1341.00" width="37.00" height="10.00" rx="5.00" fill="#000" fill-opacity="0.95" filter="url(#band)"/>
<rect x="1329.70" y="1341.00" width="39.00" height="10.00" rx="5.00" fill="#000" fill-opacity="0.95" filter="url(#band)"/>
<rect x="1365.70" y="1341.00" width="39.00" height="10.00" rx="5.00" fill="#000" fill-opacity="0.95" filter="url(#band)"/>
<rect x="1401.20" y="1341.00" width="39.00" height="10.00" rx="5.00" fill="#000" fill-opacity="0.72" filter="url(#band)"/>
<rect x="1437.70" y="1341.00" width="38.00" height="10.00" rx="5.00" fill="#000" fill-opacity="0.95" filter="url(#band)"/>
<rect x="1475.80" y="1340.00" width="37.00" height="10.00" rx="5.00" fill="#000" fill-opacity="0.95" filter="url(#band)"/>
<rect x="1511.30" y="1340.00" width="35.00" height="10.00" rx="5.00" fill="#000" fill-opacity="0.95" filter="url(#band)"/>
<rect x="1547.60" y="1340.00" width="38.00" height="10.00" rx="5.00" fill="#000" fill-opacity="0.95" filter="url(#band)"/>
<rect x="1587.80" y="1340.00" width="38.00" height="10.00" rx="5.00" fill="#000" fill-opacity="0.95" filter="url(#band)"/>
</g>
<rect x="1184.00" y="1320.60" width="445.00" height="45.40" fill="none" stroke="#222" stroke-width="3.2"/>
<text transform="translate(1101.50 1277.50) scale(1 1.06)" font-size="27.5">PARP</text>
<text transform="translate(1066.80 1299.50) scale(1 1.06)" font-size="23.3">Cleaved</text>
<polygon points="1158.30,1284.50 1175.30,1291.70 1158.30,1298.90 1162.80,1291.70" fill="#1a1a1a"/>
<text transform="translate(1079.40 1344.90) scale(1 1.06)" font-size="27.2">GAPDH</text>
<text transform="translate(1662.00 1228.60) scale(1 1.06)" font-size="26.6">KDa</text>
<line x1="1631.70" y1="1273.60" x2="1658.30" y2="1273.60" stroke="#222" stroke-width="3" stroke-linecap="butt"/>
<text transform="translate(1667.20 1282.50) scale(1 1.06)" font-size="26">100</text>
<line x1="1631.70" y1="1303.00" x2="1658.30" y2="1303.00" stroke="#222" stroke-width="3" stroke-linecap="butt"/>
<text transform="translate(1667.20 1310.90) scale(1 1.06)" font-size="26">75</text>
<line x1="1631.70" y1="1331.40" x2="1658.30" y2="1331.40" stroke="#222" stroke-width="3" stroke-linecap="butt"/>
<text transform="translate(1666.00 1338.50) scale(1 1.06)" font-size="26">37</text>
</svg>
</body></html>
